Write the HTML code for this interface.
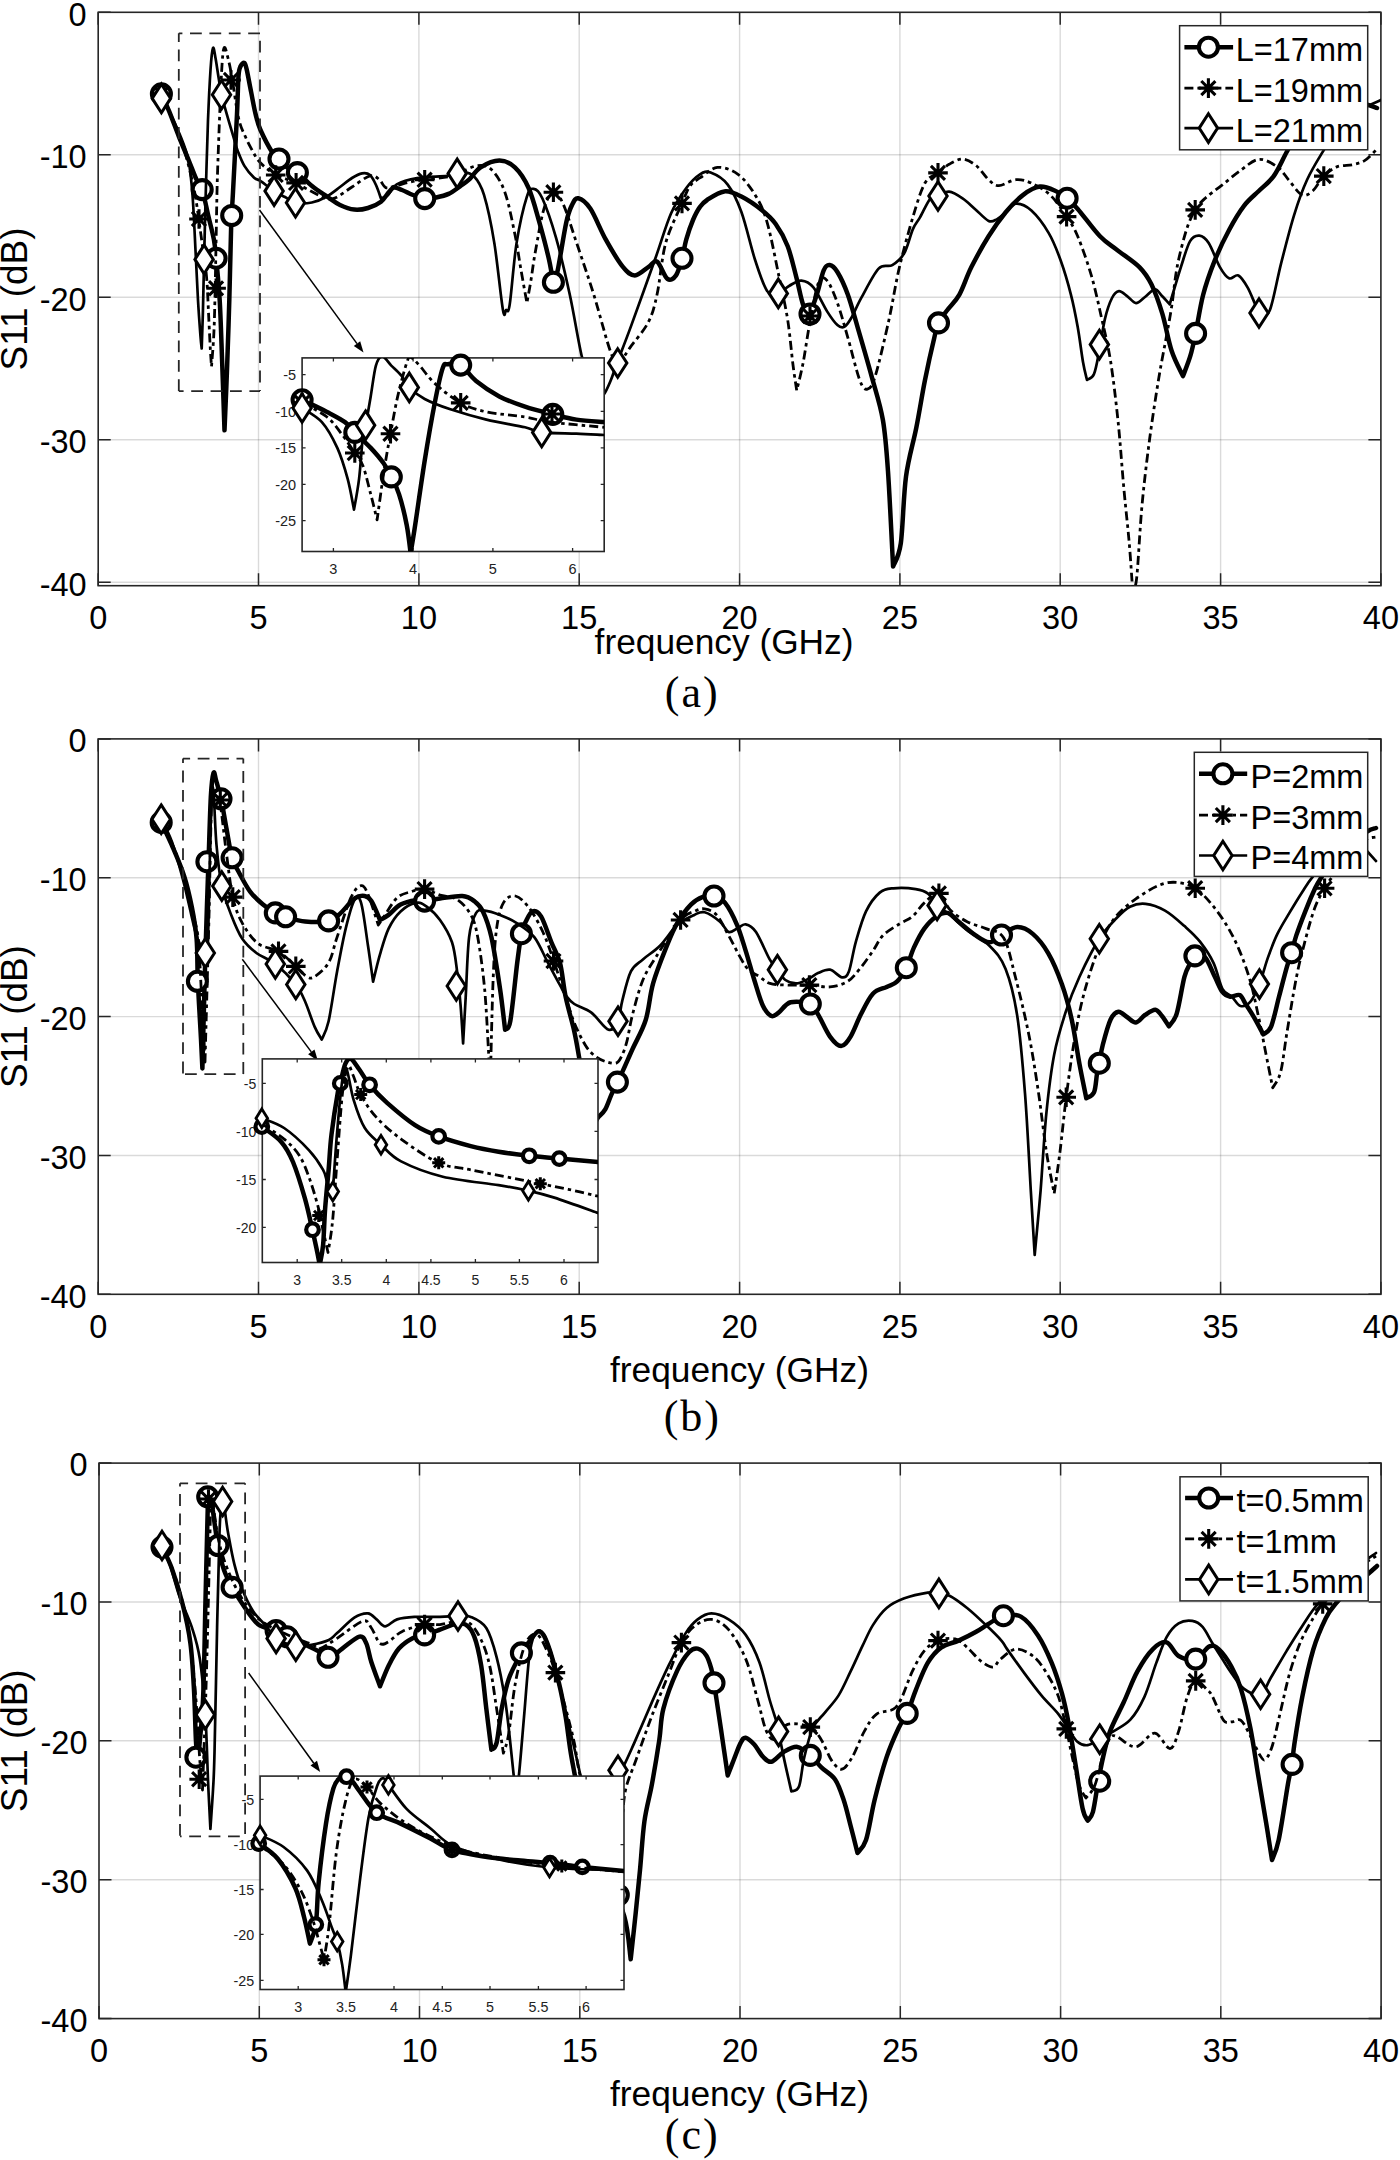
<!DOCTYPE html><html><head><meta charset="utf-8"><style>html,body{margin:0;padding:0;background:#fff;width:1400px;height:2160px;overflow:hidden}svg{display:block}text{font-family:"Liberation Sans",sans-serif}</style></head><body>
<svg width="1400" height="2160" viewBox="0 0 1400 2160">
<rect width="1400" height="2160" fill="#fff"/>
<path d="M258.5 12.3V585.7M418.9 12.3V585.7M579.2 12.3V585.7M739.6 12.3V585.7M899.9 12.3V585.7M1060.2 12.3V585.7M1220.6 12.3V585.7" stroke="#262626" stroke-opacity="0.17" stroke-width="1.4" fill="none"/>
<path d="M98.2 154.8H1380.9M98.2 297.3H1380.9M98.2 439.8H1380.9M98.2 582.3H1380.9" stroke="#262626" stroke-opacity="0.17" stroke-width="1.4" fill="none"/>
<clipPath id="clipa"><rect x="98.2" y="12.3" width="1282.7" height="573.4"/></clipPath>
<path d="M98.2 585.7v-12.5M98.2 12.3v12.5M258.5 585.7v-12.5M258.5 12.3v12.5M418.9 585.7v-12.5M418.9 12.3v12.5M579.2 585.7v-12.5M579.2 12.3v12.5M739.6 585.7v-12.5M739.6 12.3v12.5M899.9 585.7v-12.5M899.9 12.3v12.5M1060.2 585.7v-12.5M1060.2 12.3v12.5M1220.6 585.7v-12.5M1220.6 12.3v12.5M1380.9 585.7v-12.5M1380.9 12.3v12.5M98.2 12.3h12.5M1380.9 12.3h-12.5M98.2 154.8h12.5M1380.9 154.8h-12.5M98.2 297.3h12.5M1380.9 297.3h-12.5M98.2 439.8h12.5M1380.9 439.8h-12.5M98.2 582.3h12.5M1380.9 582.3h-12.5" stroke="#262626" stroke-width="1.5" fill="none"/>
<rect x="98.2" y="12.3" width="1282.7" height="573.4" stroke="#262626" stroke-width="1.6" fill="none"/>
<path d="M161.4 93.9C162.7 96.8 166.3 104.3 169.2 111.4C172.1 118.5 175.7 128.5 178.9 136.6C182.1 144.7 185.7 152.9 188.6 160C191.5 167.1 194.1 174.5 196.4 179.4C198.7 184.3 200.3 183.8 202.2 189.6C204.1 195.4 206.1 206.1 208 214.4C209.9 222.8 212.6 232.4 213.9 239.7C215.2 247 215.1 248.1 216.1 258.2C217.1 268.3 218.7 283.2 219.7 300.3C220.7 317.4 221.3 338.8 222.1 360.5C222.9 382.2 224.1 418.7 224.5 430.3C224.9 420.7 226.1 394.2 226.9 372.5C227.7 350.8 228.6 324.4 229.3 300.3C230 276.2 230.5 246.2 231.1 228.1C231.7 210 232 211 233 192C234 173 236.1 133.4 237 114.1C237.9 94.8 237.9 84 238.5 76C239.1 68 239.7 68.2 240.7 66C241.7 63.8 243.4 62.4 244.4 63C245.4 63.6 245.6 64.8 246.7 69.6C247.8 74.4 249.6 84.5 251.1 91.9C252.6 99.3 254 107.8 255.6 114.1C257.2 120.4 257.7 123.7 260.5 130C263.3 136.3 269.1 147.4 272.2 152.2C275.3 157 276.1 156.1 279 159C281.9 161.9 286.6 167.4 289.7 169.7C292.8 172 293.7 169.9 297.4 172.6C301.1 175.3 307 181.9 312 186C317 190.1 322.9 193.8 327.6 197C332.3 200.2 335.6 202.9 340 205C344.4 207.1 349.6 209.1 354.3 209.6C359 210.1 363.6 209.3 368 208C372.4 206.7 377.5 204.4 381 201.7C384.5 199 386.8 194.4 389 192C391.2 189.6 391.8 187.8 394 187.5C396.2 187.2 398.8 188.8 402 190C405.2 191.2 409.2 193.6 413 195C416.8 196.4 420.9 198.2 424.7 198.6C428.5 199 432 198.3 436 197.5C440 196.7 444.6 195.8 448.6 193.9C452.6 192 456.6 188.7 460 186.3C463.4 183.9 465.6 182.8 469 179.7C472.4 176.5 475.5 170.6 480.6 167.4C485.7 164.2 493.7 160.6 499.4 160.6C505.1 160.6 510 162.8 514.9 167.4C519.8 172 524.6 179.1 528.6 188C532.6 196.9 535.5 208.6 538.9 220.6C542.3 232.6 546.7 249.3 549.1 260C551.5 270.7 552.7 280.8 553.4 285C554.1 282.6 555.6 280.8 557.7 270.3C559.9 259.9 563.9 233.2 566.3 222.3C568.7 211.4 570 209 572 205C574 201 575.2 197.7 578.3 198.3C581.3 198.9 585.7 201.8 590.3 208.6C594.9 215.4 600.3 229.7 605.7 239.4C611.1 249.1 618 260.9 622.9 266.9C627.8 272.9 630.6 275.4 634.9 275.4C639.2 275.4 644.9 269.2 648.6 266.9C652.3 264.6 654 259.7 657.1 261.7C660.2 263.7 664.2 276.6 667.4 278.9C670.5 281.2 673.6 278.8 676 275.4C678.4 272 680.3 264.3 682 258.3C683.7 252.3 684.5 245.8 686.3 239.4C688.1 233 690.7 225.4 693 220C695.3 214.6 697.6 210.2 700 206.9C702.4 203.6 703.1 202.6 707.1 200C711.1 197.4 718.6 192 724.3 191.4C730 190.8 735.1 193.4 741.4 196.6C747.7 199.8 756.3 205.7 762 210.3C767.7 214.9 771.4 218 775.7 224C780 230 784.3 237.5 787.7 246.3C791.1 255.2 793.7 267.4 796.3 277.1C798.9 286.8 800.8 298.5 803.1 304.6C805.4 310.8 808.9 312.4 810 314C811.1 310.7 814.6 301.6 816.9 294.3C819.2 287 821.6 275.2 823.7 270.3C825.8 265.4 827.4 264.8 829.7 265.1C832 265.4 834.4 267.1 837.4 272C840.4 276.9 844.3 284.9 847.7 294.3C851.1 303.7 854 314.9 858 328.6C862 342.3 867.6 361.4 871.7 376.6C875.9 391.8 880.2 404.2 882.9 420C885.6 435.8 886.3 447 888 471.4C889.7 495.8 892.2 550.7 893.1 566.6C894.4 562.7 898.6 558.4 900.8 543.4C902.9 528.4 903.4 495.9 906 476.6C908.6 457.3 913.1 443.8 916.3 427.7C919.5 411.6 922 395 925 380C928 365 932 347.2 934.3 337.7C936.5 328.2 936.3 327.5 938.5 322.9C940.7 318.3 943.9 314.7 947.4 310C950.9 305.3 955.4 301.8 959.4 294.6C963.4 287.5 966.5 276.8 971.4 267.1C976.3 257.4 982.9 245.4 988.6 236.3C994.3 227.2 1000 219.2 1005.7 212.3C1011.4 205.4 1017.2 199.4 1022.9 195.1C1028.6 190.8 1034.3 187.2 1040 186.6C1045.7 186 1052.6 189.8 1057.1 191.7C1061.6 193.6 1063.7 195.3 1067.1 198.2C1070.5 201.1 1072.2 202.6 1077.7 208.9C1083.2 215.2 1093.4 229.5 1100 236.3C1106.6 243.2 1110.5 244.9 1117.1 250C1123.7 255.1 1133.7 261.4 1139.4 267.1C1145.1 272.8 1147.6 276.6 1151.4 284.3C1155.2 292.1 1158.9 302.5 1162.3 313.6C1165.7 324.7 1168.1 340.3 1171.6 350.7C1175 361.1 1181.1 371.9 1183 376.1C1184.2 372.7 1188.3 362.8 1190.4 355.7C1192.5 348.6 1193.5 343.5 1195.6 333.4C1197.7 323.3 1200 307 1203.1 295C1206.2 283 1210 272.4 1214.3 261.6C1218.6 250.8 1224.1 239.3 1229.1 230C1234 220.7 1239 212.3 1244 205.8C1249 199.3 1253.8 195.9 1258.8 191C1263.8 186.1 1269 182.6 1273.7 176.1C1278.4 169.6 1282.3 160 1286.7 152C1291.1 144 1294.5 135 1300 128C1305.5 121 1312.5 114.7 1320 110C1327.5 105.3 1337.5 101 1345 100C1352.5 99 1359.7 102.7 1365 104C1370.3 105.3 1375 107.3 1377 108" stroke="#000" stroke-width="4.5" fill="none" stroke-linejoin="round" stroke-linecap="round" clip-path="url(#clipa)"/>
<g fill="#fff" stroke="#000" stroke-width="4.1"><circle cx="161.4" cy="93.9" r="9.5"/><circle cx="202.2" cy="189.6" r="9.5"/><circle cx="216.1" cy="258.2" r="9.5"/><circle cx="231.7" cy="215.5" r="9.5"/><circle cx="279" cy="159" r="9.5"/><circle cx="297.4" cy="172.6" r="9.5"/><circle cx="424.7" cy="198.6" r="9.5"/><circle cx="553.4" cy="282.3" r="9.5"/><circle cx="682" cy="258.3" r="9.5"/><circle cx="810" cy="314" r="9.5"/><circle cx="938.5" cy="322.9" r="9.5"/><circle cx="1067.1" cy="198.2" r="9.5"/><circle cx="1195.6" cy="333.4" r="9.5"/><circle cx="1323.3" cy="115" r="9.5"/></g>
<path d="M161.4 94C162.7 96.8 166.2 104.3 169 111C171.8 117.7 175.2 126.5 178 134C180.8 141.5 183.7 148.3 186 156C188.3 163.7 190.3 172.7 192 180C193.7 187.3 194.4 190 196 200C197.6 210 199.9 227.5 201.7 240.2C203.4 252.9 205.4 264.3 206.5 276.3C207.6 288.3 207.9 300.4 208.5 312.4C209.1 324.4 209.8 339.5 210.3 348.5C210.8 357.5 211.3 363.5 211.5 366.5C211.9 361.5 213.1 347.4 213.7 336.4C214.3 325.4 214.5 316.3 214.9 300.3C215.3 284.3 215.7 260.2 216.1 240.2C216.5 220.1 216.7 202.2 217.3 180C218 157.8 219.2 126.3 220 106.7C220.8 87.1 221.5 72.1 222.2 62.2C222.9 52.3 223.4 48 224.4 47.4C225.4 46.8 226.8 53.6 228.1 58.5C229.3 63.4 230.2 67.1 231.9 77C233.6 86.9 236.3 107.9 238.5 117.8C240.7 127.7 242.8 130.8 245.2 136.3C247.5 141.9 250.4 147 252.6 151.1C254.8 155.2 256.3 157.9 258.5 160.7C260.7 163.5 263.1 165.6 266 168C268.9 170.4 272.4 173.2 275.7 175C279 176.8 282.6 177.7 286 179C289.4 180.3 292.6 181.2 296.1 182.9C299.6 184.6 302.1 186.5 307.1 189.1C312.1 191.7 321.3 197.1 326 198.6C330.7 200.1 331.1 199.7 335.4 197.8C339.7 195.9 346.2 190.7 352 187C357.8 183.3 365.4 177 370 175.8C374.6 174.6 376.8 177.7 379.4 179.7C382 181.7 383.1 186.5 385.7 187.6C388.3 188.7 391.1 186.9 395.1 186C399.2 185.1 405.1 183.1 410 182C414.9 180.9 418.3 180.6 424.7 179.7C431.1 178.8 442.7 177.8 448.6 176.6C454.5 175.4 455.2 174.4 460 172.6C464.8 170.8 472 166.3 477.1 165.7C482.2 165.1 486.3 164.8 490.9 169.1C495.5 173.4 500.6 180.5 504.6 191.4C508.6 202.3 512.2 221.2 514.9 234.3C517.6 247.4 519 258.6 521 270C523 281.4 525.9 297.4 526.9 302.9C527.6 299.1 529.6 288.6 531 280C532.4 271.4 533.2 263.3 535.4 251.4C537.6 239.5 541 218.4 544 208.6C547 198.8 550.2 193.2 553.4 192.3C556.5 191.4 559 195 562.9 203.4C566.8 211.8 571.5 227.8 576.6 242.9C581.7 258.1 588 276 593.7 294.3C599.4 312.6 606.6 341.5 610.9 352.6C615.2 363.7 616 362.2 619.4 361.1C622.8 360 626.5 352.3 631.4 345.7C636.3 339.1 644.3 330.3 648.6 321.7C652.9 313.1 654.2 307.4 657.1 294.3C660 281.2 661.6 258.1 665.7 242.9C669.9 227.8 678 212.9 682 203.4C686 193.9 687 190.3 690 186C693 181.7 695.7 180.8 700.3 177.7C704.9 174.6 711.1 168 717.4 167.4C723.7 166.8 731.7 169.7 738 174.3C744.3 178.9 750.2 186.9 755.1 194.9C760 202.9 763.1 208.6 767.1 222.3C771.1 236 775.7 260.8 779.1 277.1C782.5 293.4 785.4 305.4 787.7 320C790 334.6 791.5 353.3 793 365C794.5 376.7 796.1 386.2 796.7 390.4C797.8 385.8 800.9 374.3 803.1 362.9C805.3 351.4 807.4 335.1 810 321.7C812.6 308.3 815.8 289.1 818.6 282.3C821.5 275.5 824 277.2 827.1 280.6C830.2 284 834 293.5 837.4 302.9C840.8 312.3 844 324.2 847.7 337.1C851.4 350 856.4 371.3 859.7 380C863 388.7 864.8 389.7 867.4 389.1C870 388.5 871.5 388.1 875.1 376.6C878.7 365.1 884.9 338 888.9 320C892.9 302 895.1 285.8 899.1 268.6C903.1 251.5 908.6 231.4 912.9 217.1C917.2 202.8 920.8 190.4 925 183C929.2 175.6 934 176 938 172.9C942 169.8 945 166.6 949.1 164.3C953.2 162 958.3 158.8 962.9 159.1C967.5 159.4 972.3 162.6 976.6 166C980.9 169.4 984.9 176.4 988.6 179.7C992.3 183 994.3 185.7 998.9 185.7C1003.5 185.7 1010.6 180.1 1016 179.7C1021.4 179.3 1025.7 180.5 1031.4 183.1C1037.1 185.7 1044.4 189.5 1050.3 195.1C1056.2 200.7 1062 209.7 1066.6 216.6C1071.2 223.5 1073.6 226.5 1077.7 236.3C1081.8 246.2 1087.4 262 1091.4 275.7C1095.4 289.4 1098.5 304.3 1101.7 318.6C1104.9 332.9 1107.9 344.3 1110.6 361.3C1113.3 378.3 1115.8 400 1118 420.7C1120.2 441.4 1121.8 465.6 1123.6 485.7C1125.4 505.8 1127.6 524.4 1129.1 541.4C1130.6 558.4 1131.9 580.2 1132.5 588C1133.2 586.4 1135 592.6 1136.6 578.6C1138.2 564.6 1139.9 527.5 1142.1 504.3C1144.3 481.1 1146.8 460.4 1149.6 439.3C1152.4 418.2 1156 395 1158.8 378C1161.6 361 1164.1 349.2 1166.3 337.1C1168.5 325 1170 317.3 1171.8 305.6C1173.6 293.9 1174.7 279.7 1177.1 267.1C1179.5 254.5 1183.4 239.5 1186.4 230C1189.4 220.5 1192.1 215.2 1195.2 209.9C1198.3 204.6 1200.6 202.5 1205 198.4C1209.4 194.3 1215.8 190 1221.7 185.4C1227.6 180.8 1234.1 174.9 1240.3 170.6C1246.5 166.3 1252.6 160 1258.8 159.4C1265 158.8 1272.4 163.5 1277.4 166.9C1282.4 170.3 1284.6 175.2 1288.6 179.8C1292.6 184.4 1297.6 192.8 1301.6 194.7C1305.6 196.6 1309 194.1 1312.7 191C1316.4 187.9 1319.8 180.1 1323.8 176.1C1327.8 172.1 1331.9 168.8 1336.8 166.9C1341.7 165 1348.3 165.7 1352.9 164.6C1357.5 163.5 1361.1 162.7 1364.6 160.6C1368.1 158.5 1372.1 153.9 1374.1 152C1376.1 150.1 1376.1 149.5 1376.5 149" stroke="#000" stroke-width="2.8" fill="none" stroke-linejoin="round" stroke-dasharray="9 4 3.5 4" clip-path="url(#clipa)"/>
<path d="M151.6 94h19.6M161.4 84.2v19.6M154.3 86.9l14.1 14.1M154.3 101.1l14.1 -14.1M189.2 219h19.6M199 209.2v19.6M191.9 211.9l14.1 14.1M191.9 226.1l14.1 -14.1M206.3 288.3h19.6M216.1 278.5v19.6M209 281.2l14.1 14.1M209 295.4l14.1 -14.1M221.2 80h19.6M231 70.2v19.6M223.9 72.9l14.1 14.1M223.9 87.1l14.1 -14.1M265.9 175h19.6M275.7 165.2v19.6M268.6 167.9l14.1 14.1M268.6 182.1l14.1 -14.1M286.3 182.9h19.6M296.1 173.1v19.6M289 175.8l14.1 14.1M289 190l14.1 -14.1M414.9 179.7h19.6M424.7 169.9v19.6M417.6 172.6l14.1 14.1M417.6 186.8l14.1 -14.1M543.6 192.3h19.6M553.4 182.5v19.6M546.3 185.2l14.1 14.1M546.3 199.4l14.1 -14.1M672.2 203.4h19.6M682 193.6v19.6M674.9 196.3l14.1 14.1M674.9 210.5l14.1 -14.1M800.2 316h19.6M810 306.2v19.6M802.9 308.9l14.1 14.1M802.9 323.1l14.1 -14.1M928.2 172.9h19.6M938 163.1v19.6M930.9 165.8l14.1 14.1M930.9 180l14.1 -14.1M1056.8 216.6h19.6M1066.6 206.8v19.6M1059.5 209.5l14.1 14.1M1059.5 223.7l14.1 -14.1M1185.4 209.9h19.6M1195.2 200.1v19.6M1188.1 202.8l14.1 14.1M1188.1 217l14.1 -14.1M1314 176.1h19.6M1323.8 166.3v19.6M1316.7 169l14.1 14.1M1316.7 183.2l14.1 -14.1" stroke="#000" stroke-width="3.1" fill="none"/>
<path d="M160.4 96.8C162 99.5 166.7 106.6 170 113C173.3 119.4 176.9 127.2 180 135C183.1 142.8 186.3 150 188.4 160C190.5 170 191.3 179.6 192.5 195C193.7 210.4 194.7 234.6 195.6 252.2C196.5 269.8 197.2 286.3 198 300.3C198.8 314.3 199.9 328.4 200.5 336.4C201.1 344.4 201.5 346.5 201.7 348.5C201.9 342.5 202.5 327.2 202.9 312.4C203.3 297.5 203.6 280.1 204.1 259.4C204.6 238.7 205.2 211.3 205.9 188.1C206.6 164.9 207.2 139.7 208 120C208.8 100.3 209.7 82 210.5 70C211.3 58 212.2 50.1 213 48.1C213.8 46.1 214.6 53.2 215.5 58C216.4 62.8 217.5 70.9 218.5 77C219.5 83.1 220.3 89.1 221.5 94.8C222.7 100.5 223.9 104.2 225.9 111.1C227.9 118 231.3 129.6 233.3 136.3C235.3 143 236 146.2 237.8 151.1C239.7 156 241.7 161.4 244.4 165.9C247.1 170.4 251.5 175.3 254.1 177.8C256.7 180.3 256.7 178.5 260 180.7C263.3 182.9 269.9 188.4 274.1 191.1C278.3 193.8 281.4 195.1 285 197C288.6 198.9 291 201.9 295.5 202.8C300 203.7 306.8 203.5 311.9 202.5C317 201.5 321.3 199.6 326 197C330.7 194.4 335.7 190.2 340 187C344.3 183.8 348.3 180.3 352 178C355.7 175.7 359.1 173.9 362.1 173.4C365.1 172.9 367.7 173.1 370 175C372.3 176.9 374.2 181.1 376 185C377.8 188.9 380.2 196.3 381 198.6C382.2 198 385.4 197.4 388 195C390.6 192.6 391.8 187.2 396.7 184.4C401.6 181.6 408.7 179.5 417.1 178.1C425.5 176.7 440.3 176.6 447 175.8C453.7 175 454.7 174 457.2 173.4C459.7 172.8 459.2 171.6 462 172C464.8 172.4 470 172.2 473.7 176C477.4 179.8 480.6 183.8 484 194.9C487.4 206.1 491.2 223.8 494.3 242.9C497.4 262 500.9 298.5 502.9 309.7C504.8 320.9 504.9 310.9 506 310C507.1 309.1 507.9 315.8 509.7 304.6C511.5 293.4 513.7 260.9 516.6 242.9C519.5 224.9 524 205.6 526.9 196.6C529.8 187.6 531.1 188.6 533.7 188.9C536.3 189.2 538.6 190.2 542.3 198.3C546 206.4 551.4 221.7 556 237.7C560.6 253.7 565.4 274.6 569.7 294.3C574 314 578.3 341.7 581.7 356C585.1 370.3 587.3 373.5 590 380C592.7 386.5 595.7 392.6 598 395C600.3 397.4 601.8 396.8 603.9 394.3C606 391.8 608.7 385.2 610.9 380C613.1 374.8 613.6 372.1 617 363C620.4 353.9 625 342.6 631.4 325.1C637.8 307.7 648.8 276.9 655.4 258.3C662 239.7 665.8 225.4 670.9 213.7C676 202 681.4 194.6 686.3 188C691.1 181.4 696 176.9 700 174.3C704 171.7 706 170.9 710.6 172.6C715.2 174.3 722.6 178 727.7 184.6C732.8 191.2 736.8 199.4 741.4 212C746 224.6 750.8 246.8 755.1 260C759.4 273.1 763.2 285.3 767.1 290.9C771 296.5 774.6 294.3 778.3 293.4C782 292.5 785.5 287.8 789.4 285.7C793.2 283.6 797.4 280.3 801.4 280.6C805.4 280.9 809.1 282.3 813.4 287.4C817.7 292.5 823.1 305.1 827.1 311.4C831.1 317.7 834.5 322.5 837.4 325.1C840.3 327.7 842 328 844.3 326.9C846.6 325.8 848.2 323.2 851.1 318.3C854 313.4 856.8 306 861.4 297.7C866 289.4 873.5 274 878.6 268.6C883.8 263.2 888 267.7 892.3 265.1C896.6 262.5 900.9 259.1 904.3 253.1C907.7 247.1 910.3 235 912.9 229.1C915.5 223.2 917.1 222.5 920 217.4C922.9 212.3 927.3 202.2 930.3 198.6C933.3 195 934.9 197.2 938 196C941.1 194.8 945 191.3 949.1 191.7C953.2 192.1 958.6 195.7 962.9 198.6C967.2 201.5 970.6 205.2 974.9 208.9C979.2 212.6 984.9 219.2 988.6 220.9C992.3 222.6 994.2 220.5 997.1 219.1C1000 217.7 1002.6 214.9 1005.7 212.3C1008.9 209.7 1011.7 204 1016 203.7C1020.3 203.4 1026 205.7 1031.4 210.6C1036.8 215.5 1043.7 224.6 1048.6 232.9C1053.5 241.2 1056.9 250 1060.6 260.3C1064.3 270.6 1068.1 283.5 1070.9 294.6C1073.8 305.7 1075.7 315.9 1077.7 327.1C1079.7 338.3 1081.5 353.2 1083 362C1084.5 370.8 1086.3 376.9 1087 379.9C1088.2 379 1091.8 379.3 1093.9 374.3C1096 369.3 1097.6 359.4 1099.4 350.1C1101.2 340.8 1102.9 327.3 1105 318.6C1107.1 309.9 1109.7 302.6 1112 298C1114.3 293.4 1116.3 291.4 1118.9 291.1C1121.5 290.8 1124.6 294.3 1127.4 296.3C1130.2 298.3 1133.1 303 1136 303.1C1138.9 303.2 1141.8 299.3 1145 297C1148.2 294.7 1152.1 289.6 1154.9 289.4C1157.7 289.2 1159.5 293.5 1162 296C1164.5 298.5 1168.4 302.9 1169.7 304.3C1171.6 298.1 1177.5 277.6 1180.9 267.1C1184.3 256.6 1187 246.3 1190.1 241.1C1193.2 235.8 1196.3 235.3 1199.4 235.6C1202.5 235.9 1205.3 237.8 1208.7 243C1212.1 248.2 1216.5 261.2 1219.9 267.1C1223.3 273 1226 276.9 1229.1 278.3C1232.2 279.7 1235.3 273.9 1238.4 275.5C1241.5 277.1 1244.6 282.2 1247.7 287.6C1250.8 293 1254.6 303.9 1257 308C1259.4 312.1 1259.8 311.7 1262 312C1264.2 312.3 1266.8 317.9 1270 309.8C1273.2 301.7 1277.1 279.2 1281.1 263.4C1285.1 247.6 1289.8 229 1294.1 215.1C1298.4 201.2 1302.1 190.6 1307.1 179.8C1312 169 1318.3 159.2 1323.8 150.1C1329.3 141 1334 131.7 1340 125C1346 118.3 1353.2 114.2 1360 110C1366.8 105.8 1377.5 101.7 1381 100" stroke="#000" stroke-width="2.7" fill="none" stroke-linejoin="round" stroke-linecap="round" clip-path="url(#clipa)"/>
<path d="M161.4 84.1L170.6 98.4L161.4 112.7L152.2 98.4ZM204.1 245.1L213.3 259.4L204.1 273.7L194.9 259.4ZM221.5 80.5L230.7 94.8L221.5 109.1L212.3 94.8ZM274.1 176.8L283.3 191.1L274.1 205.4L264.9 191.1ZM295.5 188.5L304.7 202.8L295.5 217.1L286.3 202.8ZM457.2 159.1L466.4 173.4L457.2 187.7L448 173.4ZM617.7 348.7L626.9 363L617.7 377.3L608.5 363ZM778.3 279.1L787.5 293.4L778.3 307.7L769.1 293.4ZM938 181.7L947.2 196L938 210.3L928.8 196ZM1099.4 330.3L1108.6 344.6L1099.4 358.9L1090.2 344.6ZM1259 298.7L1268.2 313L1259 327.3L1249.8 313Z" stroke="#000" stroke-width="3" fill="#fff" stroke-linejoin="miter"/>
<path d="M178.8 33.3H260" stroke="#262626" stroke-width="1.8" fill="none" stroke-dasharray="11.8 7.6" stroke-dashoffset="8.2"/>
<path d="M178.8 33.3V391.1" stroke="#262626" stroke-width="1.8" fill="none" stroke-dasharray="11.8 7.6" stroke-dashoffset="3.2"/>
<path d="M260 33.3V391.1" stroke="#262626" stroke-width="1.8" fill="none" stroke-dasharray="11.8 7.6" stroke-dashoffset="11.9"/>
<path d="M178.8 391.1H260" stroke="#262626" stroke-width="1.8" fill="none" stroke-dasharray="11.8 7.6" stroke-dashoffset="7.0"/>
<path d="M259.5 210L357 343.6" stroke="#000" stroke-width="1.5"/>
<path d="M363.5 352.5L353.8 346L360.2 341.3Z" fill="#000"/>
<rect x="302.1" y="357.9" width="302.1" height="193.6" fill="#fff"/>
<text x="333.4" y="573.5" font-size="14.5" text-anchor="middle" fill="#222">3</text>
<text x="413.1" y="573.5" font-size="14.5" text-anchor="middle" fill="#222">4</text>
<text x="492.9" y="573.5" font-size="14.5" text-anchor="middle" fill="#222">5</text>
<text x="572.6" y="573.5" font-size="14.5" text-anchor="middle" fill="#222">6</text>
<text x="296.1" y="379.8" font-size="14.5" text-anchor="end" fill="#222">-5</text>
<text x="296.1" y="416.5" font-size="14.5" text-anchor="end" fill="#222">-10</text>
<text x="296.1" y="453.1" font-size="14.5" text-anchor="end" fill="#222">-15</text>
<text x="296.1" y="489.6" font-size="14.5" text-anchor="end" fill="#222">-20</text>
<text x="296.1" y="525.8" font-size="14.5" text-anchor="end" fill="#222">-25</text>
<clipPath id="iclipa"><rect x="302.1" y="357.9" width="302.1" height="193.6"/></clipPath>
<path d="M333.4 551.5v-3.5M333.4 357.9v3.5M413.1 551.5v-3.5M413.1 357.9v3.5M492.9 551.5v-3.5M492.9 357.9v3.5M572.6 551.5v-3.5M572.6 357.9v3.5M302.1 374.6h3.5M604.2 374.6h-3.5M302.1 411.3h3.5M604.2 411.3h-3.5M302.1 447.9h3.5M604.2 447.9h-3.5M302.1 484.4h3.5M604.2 484.4h-3.5M302.1 520.6h3.5M604.2 520.6h-3.5" stroke="#262626" stroke-width="1.3" fill="none"/>
<rect x="302.1" y="357.9" width="302.1" height="193.6" stroke="#262626" stroke-width="1.6" fill="none"/>
<path d="M302.1 399.8C306.2 401.8 319.9 408.2 327 411.9C334.1 415.6 340.4 418.7 345 422.1C349.6 425.5 350.5 428.1 354.8 432.4C359.1 436.7 365.9 442.8 370.7 447.9C375.5 453 380.2 458.5 383.6 463.3C387 468.1 388.7 471.8 391.3 476.9C393.9 482 396.4 486.1 399 494.1C401.6 502.1 404.8 515.2 406.7 525C408.6 534.8 410 548.3 410.6 553C411.2 549.2 412 545.5 414.4 530.1C416.8 514.7 421.3 482.1 424.7 460.7C428.1 439.3 432 417 435 401.6C438 386.2 440.6 374.3 442.7 368.1C444.8 361.9 444.9 364.8 447.9 364.3C450.9 363.8 456 362.3 460.7 365.1C465.4 367.9 469.7 375.8 476.1 381C482.5 386.2 491.2 392.1 499.3 396.4C507.4 400.7 516.1 403.7 525 406.7C533.9 409.7 544.2 412.2 552.8 414.4C561.4 416.5 567.9 418.3 576.4 419.6C584.9 420.9 599.4 421.7 604 422.1" stroke="#000" stroke-width="4.5" fill="none" stroke-linejoin="round" stroke-linecap="round" clip-path="url(#iclipa)"/>
<g fill="#fff" stroke="#000" stroke-width="4.1"><circle cx="302.1" cy="399.8" r="9.5"/><circle cx="354.8" cy="432.4" r="9.5"/><circle cx="391.3" cy="476.9" r="9.5"/><circle cx="460.7" cy="365.1" r="9.5"/><circle cx="552.8" cy="414.4" r="9.5"/></g>
<path d="M302.1 402.9C306.2 405.2 320.3 411.6 327 417C333.7 422.4 337.8 429 342.4 435C347 441 351.4 447.9 354.8 453C358.2 458.1 360.4 459 363 465.9C365.6 472.8 368.3 485.1 370.7 494.1C373.1 503.1 376 515.6 377.1 519.9C378.2 512.2 381.4 488 383.6 473.6C385.8 459.2 388.1 446.6 390.5 433.7C392.9 420.8 395 408.2 397.7 396.4C400.4 384.6 404.5 369.5 406.7 363C408.9 356.5 408.5 356.9 410.6 357.3C412.8 357.7 415.5 361.2 419.6 365.6C423.7 370 428.1 377.4 435 383.6C441.9 389.8 452.1 398.2 460.7 402.9C469.3 407.6 475.7 409.5 486.4 411.9C497.1 414.2 514.3 415.3 525 417C535.7 418.7 537.5 420.4 550.7 422.1C563.9 423.8 595.1 426.4 604 427.3" stroke="#000" stroke-width="2.8" fill="none" stroke-linejoin="round" stroke-dasharray="9 4 3.5 4" clip-path="url(#iclipa)"/>
<path d="M292.3 402.9h19.6M302.1 393.1v19.6M295 395.8l14.1 14.1M295 410l14.1 -14.1M345 453h19.6M354.8 443.2v19.6M347.7 445.9l14.1 14.1M347.7 460.1l14.1 -14.1M380.7 433.7h19.6M390.5 423.9v19.6M383.4 426.6l14.1 14.1M383.4 440.8l14.1 -14.1M450.9 402.9h19.6M460.7 393.1v19.6M453.6 395.8l14.1 14.1M453.6 410l14.1 -14.1M542.2 414h19.6M552 404.2v19.6M544.9 406.9l14.1 14.1M544.9 421.1l14.1 -14.1" stroke="#000" stroke-width="3.1" fill="none"/>
<path d="M302.1 408C305.4 410.4 316 415.5 321.9 422.1C327.8 428.8 333 438.5 337.3 447.9C341.6 457.3 344.8 468.4 347.6 478.7C350.4 489 352.9 504.5 354 509.6C354.9 504.5 357.6 491.1 359.1 478.7C360.6 466.3 361.9 443.9 363 435C364.1 426.1 364.3 431.6 365.6 425.2C366.9 418.8 369 406.3 370.7 396.4C372.4 386.5 374 372.2 375.9 365.6C377.8 359 379.7 356.5 382.3 356.5C384.9 356.5 388.1 362.4 391.3 365.6C394.5 368.8 398.6 372.3 401.6 375.9C404.6 379.5 405.5 383.5 409.3 387.4C413.1 391.2 417.9 395.4 424.7 399C431.5 402.6 440.1 405.9 450.4 409.3C460.7 412.7 474 416.6 486.4 419.6C498.8 422.6 515.8 425.2 525 427.3C534.2 429.4 533.1 431.3 541.7 432.4C550.3 433.5 566 433.3 576.4 433.7C586.8 434.1 599.4 434.8 604 435" stroke="#000" stroke-width="2.7" fill="none" stroke-linejoin="round" stroke-linecap="round" clip-path="url(#iclipa)"/>
<path d="M302.1 393.7L311.3 408L302.1 422.3L292.9 408ZM365.6 410.9L374.8 425.2L365.6 439.5L356.4 425.2ZM409.3 373.1L418.5 387.4L409.3 401.7L400.1 387.4ZM541.7 418.1L550.9 432.4L541.7 446.7L532.5 432.4Z" stroke="#000" stroke-width="3" fill="#fff" stroke-linejoin="miter"/>
<rect x="1179.6" y="25.7" width="188.1" height="124.1" fill="#fff" stroke="#262626" stroke-width="1.5"/>
<path d="M1184.4 47.2H1233.1" stroke="#000" stroke-width="4.5" fill="none" stroke-linejoin="butt" stroke-linecap="butt"/>
<g fill="#fff" stroke="#000" stroke-width="4.1"><circle cx="1208.4" cy="47.2" r="9.5"/></g>
<text x="1235.7" y="60.9" font-size="32.5">L=17mm</text>
<path d="M1184.4 88.1H1233.1" stroke="#000" stroke-width="2.8" stroke-dasharray="9 4 3.5 4"/>
<path d="M1198.6 88.1h19.6M1208.4 78.3v19.6M1201.3 81l14.1 14.1M1201.3 95.2l14.1 -14.1" stroke="#000" stroke-width="3.1" fill="none"/>
<text x="1235.7" y="101.8" font-size="32.5">L=19mm</text>
<path d="M1184.4 128.1H1233.1" stroke="#000" stroke-width="2.7" fill="none" stroke-linejoin="butt" stroke-linecap="butt"/>
<path d="M1208.4 113.8L1217.6 128.1L1208.4 142.4L1199.2 128.1Z" stroke="#000" stroke-width="3" fill="#fff" stroke-linejoin="miter"/>
<text x="1235.7" y="141.8" font-size="32.5">L=21mm</text>
<text x="98.2" y="629.2" font-size="32.5" text-anchor="middle">0</text>
<text x="258.5" y="629.2" font-size="32.5" text-anchor="middle">5</text>
<text x="418.9" y="629.2" font-size="32.5" text-anchor="middle">10</text>
<text x="579.2" y="629.2" font-size="32.5" text-anchor="middle">15</text>
<text x="739.6" y="629.2" font-size="32.5" text-anchor="middle">20</text>
<text x="899.9" y="629.2" font-size="32.5" text-anchor="middle">25</text>
<text x="1060.2" y="629.2" font-size="32.5" text-anchor="middle">30</text>
<text x="1220.6" y="629.2" font-size="32.5" text-anchor="middle">35</text>
<text x="1380.9" y="629.2" font-size="32.5" text-anchor="middle">40</text>
<text x="86.7" y="25.6" font-size="32.5" text-anchor="end">0</text>
<text x="86.7" y="168.1" font-size="32.5" text-anchor="end">-10</text>
<text x="86.7" y="310.6" font-size="32.5" text-anchor="end">-20</text>
<text x="86.7" y="453.1" font-size="32.5" text-anchor="end">-30</text>
<text x="86.7" y="595.6" font-size="32.5" text-anchor="end">-40</text>
<text transform="translate(27.3 299) rotate(-90)" font-size="36.9" text-anchor="middle">S11 (dB)</text>
<text x="594.6" y="653.9" font-size="35.3">frequency (GHz)</text>
<text x="664.8" y="707.4" font-size="44" letter-spacing="2" style="font-family:'Liberation Serif',serif">(a)</text>
<path d="M258.5 738.9V1294.3M418.9 738.9V1294.3M579.2 738.9V1294.3M739.6 738.9V1294.3M899.9 738.9V1294.3M1060.2 738.9V1294.3M1220.6 738.9V1294.3" stroke="#262626" stroke-opacity="0.17" stroke-width="1.4" fill="none"/>
<path d="M98.2 877.8H1380.9M98.2 1016.6H1380.9M98.2 1155.5H1380.9" stroke="#262626" stroke-opacity="0.17" stroke-width="1.4" fill="none"/>
<clipPath id="clipb"><rect x="98.2" y="738.9" width="1282.7" height="555.4"/></clipPath>
<path d="M98.2 1294.3v-12.5M98.2 738.9v12.5M258.5 1294.3v-12.5M258.5 738.9v12.5M418.9 1294.3v-12.5M418.9 738.9v12.5M579.2 1294.3v-12.5M579.2 738.9v12.5M739.6 1294.3v-12.5M739.6 738.9v12.5M899.9 1294.3v-12.5M899.9 738.9v12.5M1060.2 1294.3v-12.5M1060.2 738.9v12.5M1220.6 1294.3v-12.5M1220.6 738.9v12.5M1380.9 1294.3v-12.5M1380.9 738.9v12.5M98.2 738.9h12.5M1380.9 738.9h-12.5M98.2 877.8h12.5M1380.9 877.8h-12.5M98.2 1016.6h12.5M1380.9 1016.6h-12.5M98.2 1155.5h12.5M1380.9 1155.5h-12.5M98.2 1294.3h12.5M1380.9 1294.3h-12.5" stroke="#262626" stroke-width="1.5" fill="none"/>
<rect x="98.2" y="738.9" width="1282.7" height="555.4" stroke="#262626" stroke-width="1.6" fill="none"/>
<path d="M161.2 822.4C162.9 826.1 167.7 835.5 171.5 844.4C175.3 853.3 180.7 865.4 184.1 875.9C187.5 886.4 189.8 896.9 191.9 907.4C194 917.9 195.6 926.5 196.6 938.8C197.6 951.1 197.2 966.1 197.8 981.3C198.5 996.5 199.7 1015.5 200.5 1030C201.3 1044.5 202.1 1062.1 202.4 1068.5C202.8 1054.8 203.8 1012.9 204.5 986C205.2 959.1 206.2 928.1 206.9 907.4C207.6 886.7 207.8 880.1 208.5 861.7C209.2 843.3 210 812 210.8 797.2C211.6 782.4 212.6 775.9 213.5 773C214.4 770.1 214.8 775.7 216 780C217.2 784.3 219.2 790.7 221 798.8C222.8 806.9 224.7 818.9 226.5 828.7C228.3 838.5 230 850.5 232.1 857.8C234.2 865.1 236.1 867.1 239.1 872.7C242.1 878.3 246.2 886.4 250.1 891.6C254 896.9 258.5 900.7 262.7 904.2C266.9 907.8 271.5 910.8 275.3 912.9C279.1 915 280.6 915.4 285.6 916.8C290.6 918.2 298 920.8 305.2 921.5C312.4 922.2 322.7 922.3 328.6 920.9C334.5 919.5 336.3 916.8 340.6 913.1C344.9 909.4 350.3 901.5 354.3 898.6C358.3 895.8 361.8 895.6 364.6 896C367.5 896.4 368.8 897.1 371.4 901.1C374 905.1 378.6 916.9 380 920C381.4 919.1 385.2 917.5 388.6 914.9C392 912.3 396 907 400.6 904.6C405.2 902.2 412 900.9 416 900.3C420 899.7 420.6 901.4 424.6 901.1C428.6 900.8 433.7 899.5 440 898.6C446.3 897.8 456.6 895.6 462.3 896C468 896.4 470.9 898.5 474.3 901.1C477.7 903.7 480 905.4 482.9 911.4C485.8 917.4 488.5 924.2 491.4 937.1C494.2 950 497.7 973.2 500 988.6C502.3 1004 504.2 1022.9 505.1 1029.7C506 1028.3 508.3 1032.3 510.3 1021.2C512.3 1010.1 515.4 977.5 517.2 962.9C519.1 948.3 520 940.6 521.4 933.7C522.8 926.8 523.8 925.4 525.7 921.7C527.6 918 530 912.2 532.6 911.4C535.2 910.5 538.1 911.5 541.2 916.6C544.3 921.8 548.3 934.6 551.4 942.3C554.5 950 557.6 953.8 560 962.9C562.4 972 563.3 985.7 565.7 997.1C568.1 1008.5 572 1021.1 574.3 1031.4C576.6 1041.7 577.6 1049.1 579.4 1058.9C581.2 1068.7 582.9 1079.5 585 1090C587.1 1100.5 589.7 1117.5 592 1122C594.3 1126.5 596.4 1119.1 598.6 1116.9C600.8 1114.8 603.3 1112.8 605.4 1109.1C607.5 1105.4 609.4 1099.1 611.4 1094.6C613.4 1090.1 615.5 1086 617.4 1082.1C619.3 1078.2 620 1077 622.6 1071.4C625.2 1065.8 629 1056.9 632.9 1048.3C636.8 1039.7 642.3 1030.8 645.7 1020C649.1 1009.2 649.6 995.8 653.1 983.4C656.6 971 662.9 955.7 666.9 945.7C670.9 935.7 673.1 930.2 677.1 923.4C681.1 916.5 686.6 909 690.9 904.6C695.2 900.2 699 898.3 702.9 896.9C706.8 895.5 710.3 895 714 896C717.7 897 721.2 898 725.1 902.9C729 907.8 733.7 917.1 737.1 925.1C740.5 933.1 742.8 941.8 745.7 950.9C748.6 960 751.4 970.9 754.3 980C757.2 989.1 760 999.7 762.9 1005.7C765.8 1011.7 768.8 1014.9 771.4 1016C774 1017.1 775.4 1014.9 778.6 1012.6C781.8 1010.3 785.3 1003.7 790.6 1002.3C795.9 1000.9 805.7 1002 810.3 1004C814.9 1006 814.7 1008.9 818 1014.3C821.3 1019.7 826.1 1031.3 830 1036.6C833.9 1041.9 837.7 1046 841.1 1046C844.5 1046 847.3 1041.9 850.6 1036.6C853.9 1031.3 857.2 1021.4 860.9 1014.3C864.6 1007.1 868.6 998.3 872.9 993.7C877.2 989.1 882.6 988.9 886.6 986.9C890.6 984.9 893.6 984.9 896.9 981.7C900.2 978.5 903.4 973.4 906.3 967.7C909.1 962 911 953.9 914 947.4C917 940.9 920.6 933.7 924.3 928.6C928 923.5 932.3 919.2 936.3 916.6C940.3 914 944.6 912.2 948.3 913.1C952 914 954 918 958.6 921.7C963.2 925.4 970.6 932 975.7 935.4C980.8 938.8 985.1 942.4 989.4 942.3C993.7 942.2 996.9 937.5 1001.5 935C1006.1 932.5 1012 927.3 1017.2 927.1C1022.4 926.9 1027.6 929.5 1032.8 933.9C1038 938.3 1043.4 944.9 1048.3 953.3C1053.2 961.7 1058.1 973.5 1062 984.5C1065.9 995.5 1068.8 1006.2 1071.7 1019.5C1074.6 1032.8 1077.1 1051.1 1079.5 1064.2C1081.9 1077.3 1085.2 1092.5 1086.3 1098.2C1087.6 1097.2 1092.2 1096.5 1094 1092.4C1095.8 1088.4 1096.1 1078.8 1097 1073.9C1097.9 1069 1098.3 1068.1 1099.3 1063.2C1100.3 1058.3 1100.9 1052.1 1102.8 1044.8C1104.7 1037.5 1108 1025 1110.6 1019.5C1113.2 1014 1115.7 1012.1 1118.4 1011.7C1121.1 1011.3 1124.1 1015.2 1127 1017C1129.9 1018.8 1132.9 1022.7 1135.9 1022.4C1138.9 1022.1 1141.8 1017.1 1145 1015C1148.2 1012.9 1152.5 1009.5 1155.3 1009.7C1158.1 1009.9 1159.7 1013.2 1162 1016C1164.3 1018.8 1167.8 1024.6 1168.9 1026.3C1170.2 1024.2 1174.1 1021.9 1176.7 1013.6C1179.3 1005.3 1182.2 985.1 1184.5 976.7C1186.8 968.3 1188.6 966.6 1190.3 963.1C1192 959.6 1192.4 956.9 1194.9 955.9C1197.4 954.9 1201.8 954 1205.1 957.4C1208.4 960.8 1211.7 970.5 1214.6 976.3C1217.5 982.1 1219.8 988.6 1222.4 992C1225 995.4 1227.4 996.2 1230.3 996.7C1233.2 997.2 1237.1 993.8 1239.7 995.1C1242.3 996.4 1243.6 1000.9 1246 1004.6C1248.4 1008.3 1251 1012.1 1253.9 1017.1C1256.8 1022.1 1261.7 1031.5 1263.3 1034.4C1264.6 1033.1 1268.5 1032.9 1271.1 1026.6C1273.7 1020.3 1276.4 1006.7 1279 996.7C1281.6 986.8 1284.8 974.2 1286.9 966.9C1289 959.6 1290 958 1291.6 952.7C1293.2 947.5 1293.9 942.5 1296.3 935.4C1298.7 928.3 1302.6 918.1 1305.7 910.3C1308.8 902.4 1312.5 893.8 1315.1 888.3C1317.7 882.8 1318.1 882.3 1321.4 877.3C1324.7 872.2 1329.4 864.2 1335 858C1340.6 851.8 1349.5 844.5 1355 840C1360.5 835.5 1364.5 833 1368 831C1371.5 829 1374.7 828.5 1376 828" stroke="#000" stroke-width="4.5" fill="none" stroke-linejoin="round" stroke-linecap="round" clip-path="url(#clipb)"/>
<g fill="#fff" stroke="#000" stroke-width="4.1"><circle cx="161.2" cy="822.4" r="9.5"/><circle cx="197.4" cy="981.3" r="9.5"/><circle cx="206.9" cy="861.7" r="9.5"/><circle cx="221" cy="798.8" r="9.5"/><circle cx="232.1" cy="857.8" r="9.5"/><circle cx="275.3" cy="912.9" r="9.5"/><circle cx="285.6" cy="916.8" r="9.5"/><circle cx="328.6" cy="920.9" r="9.5"/><circle cx="424.6" cy="901.1" r="9.5"/><circle cx="521.4" cy="933.7" r="9.5"/><circle cx="617.4" cy="1082.1" r="9.5"/><circle cx="714" cy="896" r="9.5"/><circle cx="810.3" cy="1004" r="9.5"/><circle cx="906.3" cy="967.7" r="9.5"/><circle cx="1001.5" cy="935" r="9.5"/><circle cx="1099.3" cy="1063.2" r="9.5"/><circle cx="1194.9" cy="955.9" r="9.5"/><circle cx="1291.6" cy="952.7" r="9.5"/></g>
<path d="M161.2 822.4C162.8 825.7 167.9 835.1 171 842C174.1 848.9 177.3 855.7 180 864C182.7 872.3 185 883.1 187.2 891.6C189.4 900.1 191.2 907.1 193 915C194.8 922.9 196.8 925.5 198.2 938.8C199.6 952.1 200.4 974.5 201.5 995C202.6 1015.5 204.4 1050.8 205 1062C205.3 1050 206.3 1015.8 207 990C207.7 964.2 208.6 934.1 209.2 907.4C209.8 880.7 210.3 849.7 210.8 830C211.3 810.3 211.3 795.3 212 789C212.7 782.7 213.6 789.3 215 792C216.4 794.7 218.5 795.3 220.3 805C222.1 814.7 223.9 834.6 226 850C228.1 865.4 230.1 884.9 232.8 897.1C235.5 909.3 238.1 915.4 242.3 923.1C246.5 930.8 252 938.8 258 943.5C264 948.2 272.2 947.6 278.5 951.4C284.8 955.2 291.1 962.2 295.8 966.4C300.5 970.6 303.7 974.9 306.8 976.6C309.9 978.3 311 979 314.7 976.6C318.4 974.2 325.1 969 328.8 962.4C332.5 955.8 333.4 947.9 337.1 937.1C340.8 926.3 346.9 906.3 350.9 897.7C354.9 889.1 358.2 886.3 361.1 885.7C364 885.1 365.1 887.7 368 894.3C370.9 900.9 376.6 920 378.3 925.1C379.4 923.4 382 919.5 385.1 914.9C388.2 910.3 392.8 901.6 397.1 897.7C401.4 893.8 406.3 893.1 410.9 891.7C415.5 890.3 419.8 888.5 424.6 889.1C429.5 889.7 434.6 893.4 440 895.1C445.4 896.8 452 896.1 457.1 899.4C462.2 902.7 467.5 908.6 470.9 914.9C474.3 921.2 475.4 924.8 477.7 937.1C480 949.4 482.7 968.6 484.6 988.6C486.5 1008.6 487.9 1042.8 488.9 1057.2C489.9 1071.6 490.2 1072 490.5 1075C490.9 1059.2 492.1 1004.4 493.1 980C494.1 955.6 494.9 941.5 496.6 928.6C498.3 915.8 500.3 908.3 503.4 902.9C506.5 897.5 511.1 895.1 515.4 896C519.7 896.9 524.6 902 529.2 908C533.8 914 538.9 923.4 542.9 932C546.9 940.6 549.4 948.5 553.2 959.4C557 970.2 562.2 986.5 565.7 997.1C569.2 1007.7 571 1014.8 574.3 1022.9C577.6 1031 582.1 1040 585.7 1045.7C589.3 1051.4 592.4 1054.2 596 1056.9C599.6 1059.6 603.7 1061 607.1 1062C610.5 1063 614.2 1063.9 616.6 1062.9C619 1061.9 620 1059.6 621.7 1056C623.4 1052.4 625.1 1048.4 626.9 1041.4C628.7 1034.5 629.9 1024.5 632.6 1014.3C635.3 1004.1 638.9 989.7 642.9 980C646.9 970.3 650.3 966 656.6 956C662.9 946 674.3 927.4 680.6 920C686.9 912.6 690.3 913.2 694.3 911.4C698.3 909.5 700.9 908.3 704.6 908.9C708.3 909.5 712.6 910.5 716.6 914.9C720.6 919.3 723.8 926.8 728.6 935.4C733.5 944 740.6 959.4 745.7 966.3C750.8 973.2 755.4 973.8 759.4 976.6C763.4 979.5 765.4 982 770 983.4C774.6 984.8 780.5 984.8 787.1 985.1C793.7 985.4 802.2 984.8 809.4 985.1C816.5 985.4 823.7 987.5 830 986.9C836.3 986.3 842.2 984.6 847.1 981.7C852 978.8 854.8 974.8 859.1 969.7C863.4 964.6 868.9 956.6 872.9 950.9C876.9 945.2 878.5 940 883.1 935.4C887.7 930.8 895.4 926.5 900.3 923.4C905.2 920.3 908.3 920 912.3 916.6C916.3 913.2 919.9 906.8 924.3 902.9C928.7 899 934.6 892.3 938.9 893.4C943.2 894.5 945.3 905 950 909.7C954.7 914.4 961.1 918.6 967.1 921.7C973.1 924.9 979.9 925.9 986 928.6C992.1 931.3 998.7 929.8 1003.6 937.8C1008.5 945.8 1011.1 960.5 1015.3 976.7C1019.5 992.9 1025 1015.5 1028.9 1035C1032.8 1054.5 1035.7 1074 1038.6 1093.4C1041.5 1112.9 1043.8 1135 1046.4 1151.7C1049 1168.4 1052.9 1186.5 1054.2 1193.5C1055.2 1186.5 1058 1167.7 1060 1151.7C1062 1135.7 1063.9 1115.1 1066.2 1097.3C1068.5 1079.5 1070.8 1061.7 1073.6 1044.8C1076.4 1027.9 1079.1 1012.3 1083.3 996.1C1087.5 979.9 1093.7 960.5 1098.9 947.5C1104.1 934.5 1108.3 926.4 1114.5 918.3C1120.7 910.2 1128.5 904.4 1135.9 898.9C1143.4 893.4 1152.4 888 1159.2 885.3C1166 882.5 1170.7 881.9 1176.7 882.4C1182.7 882.9 1189.4 884.6 1195.2 888.2C1201 891.8 1206.1 897.7 1211.4 904C1216.7 910.3 1222.4 918.1 1227.1 926C1231.8 933.9 1235.8 941.7 1239.7 951.1C1243.6 960.5 1247.6 971.6 1250.7 982.6C1253.8 993.6 1256.2 1006.1 1258.6 1017.1C1261 1028.1 1262.6 1036.8 1264.9 1048.6C1267.2 1060.4 1271.4 1081.3 1272.7 1087.8C1274 1085.2 1278.2 1081.3 1280.6 1072.1C1283 1062.9 1284.3 1048.5 1286.9 1032.8C1289.5 1017.1 1293.2 993.6 1296.3 977.9C1299.4 962.2 1302.6 950.4 1305.7 938.6C1308.8 926.8 1311.9 915.5 1315.1 907.1C1318.2 898.7 1322 893 1324.6 888.3C1327.2 883.6 1326.6 884.4 1330.8 878.9C1335 873.4 1344.3 861.5 1350 855C1355.7 848.5 1360.7 843 1365 840C1369.3 837 1374.2 837.5 1376 837" stroke="#000" stroke-width="2.8" fill="none" stroke-linejoin="round" stroke-dasharray="9 4 3.5 4" clip-path="url(#clipb)"/>
<path d="M151.4 822.4h19.6M161.2 812.6v19.6M154.1 815.3l14.1 14.1M154.1 829.5l14.1 -14.1M210.5 800h19.6M220.3 790.2v19.6M213.2 792.9l14.1 14.1M213.2 807.1l14.1 -14.1M223 897.1h19.6M232.8 887.3v19.6M225.7 890l14.1 14.1M225.7 904.2l14.1 -14.1M268.7 951.4h19.6M278.5 941.6v19.6M271.4 944.3l14.1 14.1M271.4 958.5l14.1 -14.1M286 966.4h19.6M295.8 956.6v19.6M288.7 959.3l14.1 14.1M288.7 973.5l14.1 -14.1M414.8 889.1h19.6M424.6 879.3v19.6M417.5 882l14.1 14.1M417.5 896.2l14.1 -14.1M543.7 961h19.6M553.5 951.2v19.6M546.4 953.9l14.1 14.1M546.4 968.1l14.1 -14.1M670.8 920h19.6M680.6 910.2v19.6M673.5 912.9l14.1 14.1M673.5 927.1l14.1 -14.1M799.6 985.1h19.6M809.4 975.3v19.6M802.3 978l14.1 14.1M802.3 992.2l14.1 -14.1M929.1 893.4h19.6M938.9 883.6v19.6M931.8 886.3l14.1 14.1M931.8 900.5l14.1 -14.1M1056.4 1097.3h19.6M1066.2 1087.5v19.6M1059.1 1090.2l14.1 14.1M1059.1 1104.4l14.1 -14.1M1185.4 888.2h19.6M1195.2 878.4v19.6M1188.1 881.1l14.1 14.1M1188.1 895.3l14.1 -14.1M1314.8 888.3h19.6M1324.6 878.5v19.6M1317.5 881.2l14.1 14.1M1317.5 895.4l14.1 -14.1" stroke="#000" stroke-width="3.1" fill="none"/>
<path d="M161.2 819.2C163 823 168.2 831.2 172 842C175.8 852.8 180.2 869 184.1 883.8C187.9 898.6 192.3 920.6 195.1 931C197.9 941.4 199.3 942.3 201 946C202.7 949.7 204.2 950.2 205.3 953C206.4 955.8 207.1 961.3 207.4 963C207.7 952.5 208.5 922.2 209 900C209.5 877.8 210 848.7 210.5 830C211 811.3 211.6 793 212.2 788C212.8 783 213.3 790.5 214 800C214.7 809.5 215.2 830.6 216.5 845C217.8 859.4 219.3 874.4 221.8 886.1C224.3 897.8 227.9 906.4 231.3 915.2C234.7 924 238.1 932.5 242.3 938.8C246.5 945.1 250.9 948.8 256.4 953C261.9 957.2 268.7 958.8 275.3 964C281.9 969.2 290.8 978.2 295.8 984.5C300.8 990.8 302.1 994.7 305.2 1001.8C308.3 1008.9 311.9 1020.6 314.7 1026.9C317.4 1033.2 320.5 1037.4 321.7 1039.5C322.9 1036.5 326 1032.5 328.6 1021.2C331.2 1009.9 334.2 986.8 337.1 971.4C340 956 342.8 940.5 345.7 928.6C348.6 916.8 351.7 904.6 354.3 900.3C356.9 896 358.8 895.3 361.1 902.9C363.4 910.5 366 932.6 368 945.7C370 958.8 372.2 975.7 373.1 981.7C374.2 977.1 377.4 963.1 380 954.3C382.6 945.4 385.2 935.8 388.6 928.6C392 921.5 396 915.7 400.6 911.4C405.2 907.1 411.7 903.8 416 902.9C420.3 902 422.3 903.4 426.3 906.3C430.3 909.1 435.7 914 440 920C444.3 926 449.1 933.7 452 942.3C454.9 950.9 455.7 960.8 457.1 971.4C458.5 982 459.6 993.7 460.6 1005.7C461.6 1017.7 462.7 1037.1 463.1 1043.4C463.5 1035.7 464.7 1014.8 465.7 997.1C466.7 979.4 467.4 951.1 469.1 937.1C470.8 923.1 473.4 917.5 476 913.1C478.6 908.7 480.6 910.3 484.6 910.6C488.6 910.9 494.6 912.8 500 914.9C505.4 917 511.5 919.7 517.2 923.4C522.9 927.1 529.2 930.5 534.3 937.1C539.4 943.7 543.7 954.9 548 962.9C552.3 970.9 557 979.7 560 985.1C563 990.5 563.3 992.2 565.7 995.4C568.1 998.5 570 1001.1 574.3 1004C578.6 1006.9 585.7 1008.3 591.4 1012.6C597.1 1016.9 604.2 1028.3 608.6 1029.7C613 1031.1 615.7 1026 618 1021.2C620.3 1016.4 620.1 1008.9 622.3 1000.6C624.4 992.3 627.5 978.3 630.9 971.4C634.3 964.5 638 963.7 642.9 959.4C647.8 955.1 654.3 951.4 660 945.7C665.7 940 671.4 930.2 677.1 925.1C682.8 920 689.7 917 694.3 914.9C698.9 912.8 700.3 911.2 704.6 912.3C708.9 913.4 716 918.4 720 921.7C724 925 725.8 930.9 728.6 932C731.5 933.1 734.2 929.9 737.1 928.6C740 927.3 742.6 923.7 745.7 924.3C748.9 924.9 752 926.1 756 932C760 937.9 766.1 953.1 769.7 959.4C773.3 965.7 774.8 966.3 777.4 969.7C780 973.1 782.1 977.7 785.4 980C788.7 982.3 793.4 983.7 797.4 983.4C801.4 983.1 806 980 809.4 978.3C812.8 976.6 814.6 974.5 818 973.1C821.4 971.7 826 969 830 969.7C834 970.4 838.9 977.1 842 977.4C845.1 977.7 846.6 977.2 848.9 971.4C851.2 965.5 852.9 952.3 855.7 942.3C858.6 932.3 862 919.7 866 911.4C870 903.1 875.1 896.5 879.7 892.6C884.3 888.8 887.4 888.9 893.4 888.3C899.4 887.7 910 888.2 915.7 889.1C921.4 890 924.1 890.7 927.7 893.4C931.3 896.1 933.4 901.8 937.1 905.4C940.8 909 945 910.8 950 914.9C955 919 960.5 925.2 967.1 930.3C973.7 935.4 983 939.3 989.4 945.7C995.8 952.1 1001 957.2 1005.6 968.9C1010.2 980.5 1014 994.9 1017.2 1015.6C1020.4 1036.4 1022.7 1064.2 1025 1093.4C1027.3 1122.6 1029.2 1163.7 1030.8 1190.6C1032.4 1217.5 1034 1244.1 1034.7 1254.8C1035.7 1244.1 1038.6 1214.3 1040.6 1190.6C1042.5 1166.9 1044.1 1135.5 1046.4 1112.8C1048.7 1090.1 1051 1071.3 1054.2 1054.5C1057.4 1037.7 1061.6 1024.7 1065.8 1011.7C1070 998.7 1073.9 988.9 1079.5 976.7C1085.1 964.6 1093.1 948.5 1099.3 938.8C1105.5 929.1 1111.3 923.6 1116.4 918.3C1121.5 912.9 1125.1 909.1 1130 906.7C1134.9 904.3 1139.8 903.1 1145.6 903.8C1151.4 904.4 1158.5 906.9 1165 910.6C1171.5 914.3 1178.7 920.9 1184.5 926.1C1190.3 931.3 1195.2 935.5 1200 941.7C1204.8 947.9 1209.9 955.2 1213.6 963.1C1217.3 971 1219.4 983.3 1222.4 988.9C1225.5 994.5 1228.9 993.9 1231.9 996.7C1234.9 999.6 1237.4 1005.2 1240.5 1006C1243.6 1006.8 1247.5 1005 1250.7 1001.4C1253.9 997.8 1256.5 991.4 1259.4 984.1C1262.3 976.8 1265 965.8 1268 957.4C1271 949 1273.7 941.5 1277.4 933.9C1281.1 926.3 1285.8 919 1290 911.9C1294.2 904.8 1298.7 897.4 1302.6 891.4C1306.5 885.4 1307.4 883.4 1313.6 875.7C1319.8 868 1333.1 851.3 1340 845C1346.9 838.7 1350.7 837.2 1355 838C1359.3 838.8 1362.5 846.2 1366 850C1369.5 853.8 1374.3 859.2 1376 861" stroke="#000" stroke-width="2.7" fill="none" stroke-linejoin="round" stroke-linecap="round" clip-path="url(#clipb)"/>
<path d="M161.2 804.9L170.4 819.2L161.2 833.5L152 819.2ZM205.3 938.7L214.5 953L205.3 967.3L196.1 953ZM221.8 871.8L231 886.1L221.8 900.4L212.6 886.1ZM275.3 949.7L284.5 964L275.3 978.3L266.1 964ZM295.8 970.2L305 984.5L295.8 998.8L286.6 984.5ZM456.3 971.7L465.5 986L456.3 1000.3L447.1 986ZM618 1006.9L627.2 1021.2L618 1035.5L608.8 1021.2ZM777.4 955.4L786.6 969.7L777.4 984L768.2 969.7ZM937.1 891.1L946.3 905.4L937.1 919.7L927.9 905.4ZM1099.3 924.5L1108.5 938.8L1099.3 953.1L1090.1 938.8ZM1259.4 969.8L1268.6 984.1L1259.4 998.4L1250.2 984.1Z" stroke="#000" stroke-width="3" fill="#fff" stroke-linejoin="miter"/>
<path d="M183 758.6H243.3" stroke="#262626" stroke-width="1.8" fill="none" stroke-dasharray="11.8 7.6" stroke-dashoffset="4.7"/>
<path d="M183 758.6V1074.1" stroke="#262626" stroke-width="1.8" fill="none" stroke-dasharray="11.8 7.6" stroke-dashoffset="7.4"/>
<path d="M243.3 758.6V1074.1" stroke="#262626" stroke-width="1.8" fill="none" stroke-dasharray="11.8 7.6" stroke-dashoffset="6.9"/>
<path d="M183 1074.1H243.3" stroke="#262626" stroke-width="1.8" fill="none" stroke-dasharray="11.8 7.6" stroke-dashoffset="17.4"/>
<path d="M242.3 959.3L311.3 1051.9" stroke="#000" stroke-width="1.5"/>
<path d="M317.9 1060.7L308.1 1054.3L314.5 1049.5Z" fill="#000"/>
<rect x="262.3" y="1058.9" width="335.7" height="203.6" fill="#fff"/>
<text x="297.2" y="1284.5" font-size="14" text-anchor="middle" fill="#222">3</text>
<text x="341.7" y="1284.5" font-size="14" text-anchor="middle" fill="#222">3.5</text>
<text x="386.3" y="1284.5" font-size="14" text-anchor="middle" fill="#222">4</text>
<text x="430.9" y="1284.5" font-size="14" text-anchor="middle" fill="#222">4.5</text>
<text x="475.4" y="1284.5" font-size="14" text-anchor="middle" fill="#222">5</text>
<text x="519.4" y="1284.5" font-size="14" text-anchor="middle" fill="#222">5.5</text>
<text x="564" y="1284.5" font-size="14" text-anchor="middle" fill="#222">6</text>
<text x="256.3" y="1088.6" font-size="14" text-anchor="end" fill="#222">-5</text>
<text x="256.3" y="1136.5" font-size="14" text-anchor="end" fill="#222">-10</text>
<text x="256.3" y="1184.7" font-size="14" text-anchor="end" fill="#222">-15</text>
<text x="256.3" y="1232.6" font-size="14" text-anchor="end" fill="#222">-20</text>
<clipPath id="iclipb"><rect x="262.3" y="1058.9" width="335.7" height="203.6"/></clipPath>
<path d="M297.2 1262.5v-3.5M297.2 1058.9v3.5M341.7 1262.5v-3.5M341.7 1058.9v3.5M386.3 1262.5v-3.5M386.3 1058.9v3.5M430.9 1262.5v-3.5M430.9 1058.9v3.5M475.4 1262.5v-3.5M475.4 1058.9v3.5M519.4 1262.5v-3.5M519.4 1058.9v3.5M564 1262.5v-3.5M564 1058.9v3.5M262.3 1083.4h3.5M598 1083.4h-3.5M262.3 1131.3h3.5M598 1131.3h-3.5M262.3 1179.5h3.5M598 1179.5h-3.5M262.3 1227.4h3.5M598 1227.4h-3.5" stroke="#262626" stroke-width="1.3" fill="none"/>
<rect x="262.3" y="1058.9" width="335.7" height="203.6" stroke="#262626" stroke-width="1.6" fill="none"/>
<path d="M261.8 1126.6C265.1 1129.1 276.1 1136 281.3 1141.9C286.5 1147.8 289.1 1152.6 293 1162C296.9 1171.4 301.7 1187.2 304.9 1198.4C308.1 1209.7 310.2 1220.3 312.3 1229.5C314.4 1238.7 316.3 1247.4 317.5 1253.3C318.7 1259.2 319.3 1263 319.7 1265C320.3 1261.7 322.2 1254.3 323.1 1245C324 1235.7 324.2 1221.6 325.1 1209.1C326 1196.6 327.5 1182.4 328.6 1170C329.7 1157.6 329.9 1147.5 331.5 1134.5C333.1 1121.5 336.4 1100.5 337.9 1092C339.4 1083.5 339.1 1088.1 340.3 1083.4C341.5 1078.7 343.5 1068 345.3 1063.9C347.1 1059.8 348.6 1058 350.9 1058.9C353.2 1059.8 356.2 1065.2 359.3 1069.5C362.4 1073.8 365 1079.2 369.6 1084.8C374.2 1090.4 379.5 1096.2 387.1 1102.9C394.7 1109.6 406.4 1119.6 415 1125.2C423.6 1130.8 429.4 1132.9 438.7 1136.4C448 1139.9 460.7 1143.5 470.7 1146.1C480.7 1148.6 488.9 1150.1 498.6 1151.7C508.4 1153.3 519.1 1154.7 529.2 1155.8C539.3 1156.9 547.8 1157.6 559.3 1158.6C570.8 1159.6 591.5 1161.4 598 1162" stroke="#000" stroke-width="4.5" fill="none" stroke-linejoin="round" stroke-linecap="round" clip-path="url(#iclipb)"/>
<g fill="#fff" stroke="#000" stroke-width="4.2"><circle cx="261.8" cy="1126.6" r="6.3"/><circle cx="312.5" cy="1229.7" r="6.3"/><circle cx="340.3" cy="1083.4" r="6.3"/><circle cx="369.6" cy="1084.8" r="6.3"/><circle cx="438.7" cy="1136.4" r="6.3"/><circle cx="529.2" cy="1155.8" r="6.3"/><circle cx="559.3" cy="1158.6" r="6.3"/></g>
<path d="M261.8 1123.8C265.5 1126.3 277.8 1133.8 284.1 1139.1C290.4 1144.4 295.2 1149 299.5 1155.8C303.8 1162.6 306.8 1171.1 310 1180C313.2 1188.9 316.5 1200.8 318.7 1209.1C320.9 1217.4 321.4 1222.8 323 1230C324.6 1237.2 327.2 1248.8 328 1252.5C328.6 1248.9 330.5 1238.3 331.4 1231.1C332.3 1223.9 332.7 1220.7 333.6 1209.1C334.5 1197.5 335.5 1181 337 1161.4C338.5 1141.9 340.8 1107.6 342.6 1091.8C344.5 1076 346.4 1069.5 348.1 1066.7C349.8 1063.9 350.9 1070.3 353 1075C355.1 1079.7 356.9 1087.6 360.7 1094.6C364.5 1101.6 369.3 1109.5 376 1116.9C382.7 1124.3 390.7 1131.4 401.1 1139.1C411.6 1146.8 427.1 1157.7 438.7 1162.8C450.3 1167.9 458.4 1167.2 470.7 1169.8C483 1172.3 500.9 1175.8 512.5 1178.1C524.1 1180.4 531 1181.8 540.3 1183.7C549.6 1185.6 558.6 1187.2 568.2 1189.3C577.8 1191.4 593 1195 598 1196.2" stroke="#000" stroke-width="2.8" fill="none" stroke-linejoin="round" stroke-dasharray="9 4 3.5 4" clip-path="url(#iclipb)"/>
<path d="M312.2 1215.5h13M318.7 1209v13M314 1210.8l9.4 9.4M314 1220.2l9.4 -9.4M354.2 1094.6h13M360.7 1088.1v13M356 1089.9l9.4 9.4M356 1099.3l9.4 -9.4M432.2 1162.8h13M438.7 1156.3v13M434 1158.1l9.4 9.4M434 1167.5l9.4 -9.4M533.8 1183.7h13M540.3 1177.2v13M535.6 1179l9.4 9.4M535.6 1188.4l9.4 -9.4" stroke="#000" stroke-width="3" fill="none"/>
<path d="M261.8 1118.2C265.5 1119.8 276.2 1122.7 284.1 1128C292 1133.3 302.6 1143.3 309.1 1150.3C315.6 1157.3 320.1 1164.5 323.1 1169.8C326.1 1175.1 325.6 1178.3 327.2 1182C328.8 1185.7 331.9 1190.3 332.8 1192C333.5 1182.3 335.4 1152.6 337 1133.6C338.6 1114.6 341 1088.6 342.6 1077.9C344.2 1067.2 344.9 1065.8 346.7 1069.5C348.5 1073.2 350.7 1090.3 353.7 1100.1C356.7 1109.8 360.2 1120.6 364.8 1128C369.4 1135.4 374.9 1139.1 381 1144.7C387.1 1150.3 390.8 1156.1 401.1 1161.4C411.4 1166.7 426.6 1172.8 442.8 1176.7C459.1 1180.7 484.3 1182.8 498.6 1185.1C512.9 1187.4 519.1 1188.6 528.4 1190.7C537.7 1192.8 542.7 1193.9 554.3 1197.6C565.9 1201.3 590.7 1210.4 598 1213" stroke="#000" stroke-width="2.7" fill="none" stroke-linejoin="round" stroke-linecap="round" clip-path="url(#iclipb)"/>
<path d="M261.8 1108.9L267.6 1118.2L261.8 1127.5L256 1118.2ZM332.8 1182.2L338.6 1191.5L332.8 1200.8L327 1191.5ZM381 1135.4L386.8 1144.7L381 1154L375.2 1144.7ZM528.4 1181.4L534.2 1190.7L528.4 1200L522.6 1190.7Z" stroke="#000" stroke-width="2.8" fill="#fff" stroke-linejoin="miter"/>
<rect x="1194.3" y="752.3" width="173.4" height="124.1" fill="#fff" stroke="#262626" stroke-width="1.5"/>
<path d="M1199 773.8H1247.2" stroke="#000" stroke-width="4.5" fill="none" stroke-linejoin="butt" stroke-linecap="butt"/>
<g fill="#fff" stroke="#000" stroke-width="4.1"><circle cx="1222.9" cy="773.8" r="9.5"/></g>
<text x="1250.5" y="787.5" font-size="32.5">P=2mm</text>
<path d="M1199 815.1H1247.2" stroke="#000" stroke-width="2.8" stroke-dasharray="9 4 3.5 4"/>
<path d="M1213.1 815.1h19.6M1222.9 805.3v19.6M1215.8 808l14.1 14.1M1215.8 822.2l14.1 -14.1" stroke="#000" stroke-width="3.1" fill="none"/>
<text x="1250.5" y="828.8" font-size="32.5">P=3mm</text>
<path d="M1199 855.5H1247.2" stroke="#000" stroke-width="2.7" fill="none" stroke-linejoin="butt" stroke-linecap="butt"/>
<path d="M1222.9 841.2L1232.1 855.5L1222.9 869.8L1213.7 855.5Z" stroke="#000" stroke-width="3" fill="#fff" stroke-linejoin="miter"/>
<text x="1250.5" y="869.2" font-size="32.5">P=4mm</text>
<text x="98.2" y="1337.8" font-size="32.5" text-anchor="middle">0</text>
<text x="258.5" y="1337.8" font-size="32.5" text-anchor="middle">5</text>
<text x="418.9" y="1337.8" font-size="32.5" text-anchor="middle">10</text>
<text x="579.2" y="1337.8" font-size="32.5" text-anchor="middle">15</text>
<text x="739.6" y="1337.8" font-size="32.5" text-anchor="middle">20</text>
<text x="899.9" y="1337.8" font-size="32.5" text-anchor="middle">25</text>
<text x="1060.2" y="1337.8" font-size="32.5" text-anchor="middle">30</text>
<text x="1220.6" y="1337.8" font-size="32.5" text-anchor="middle">35</text>
<text x="1380.9" y="1337.8" font-size="32.5" text-anchor="middle">40</text>
<text x="86.7" y="752.2" font-size="32.5" text-anchor="end">0</text>
<text x="86.7" y="891" font-size="32.5" text-anchor="end">-10</text>
<text x="86.7" y="1029.9" font-size="32.5" text-anchor="end">-20</text>
<text x="86.7" y="1168.8" font-size="32.5" text-anchor="end">-30</text>
<text x="86.7" y="1307.6" font-size="32.5" text-anchor="end">-40</text>
<text transform="translate(27.3 1016.6) rotate(-90)" font-size="36.9" text-anchor="middle">S11 (dB)</text>
<text x="610" y="1382.4" font-size="35.3">frequency (GHz)</text>
<text x="663.7" y="1431.3" font-size="44" letter-spacing="2" style="font-family:'Liberation Serif',serif">(b)</text>
<path d="M259.3 1463.1V2018.6M419.5 1463.1V2018.6M579.8 1463.1V2018.6M740 1463.1V2018.6M900.3 1463.1V2018.6M1060.6 1463.1V2018.6M1220.8 1463.1V2018.6" stroke="#262626" stroke-opacity="0.17" stroke-width="1.4" fill="none"/>
<path d="M99 1602H1381.1M99 1740.8H1381.1M99 1879.7H1381.1" stroke="#262626" stroke-opacity="0.17" stroke-width="1.4" fill="none"/>
<clipPath id="clipc"><rect x="99" y="1463.1" width="1282.1" height="555.5"/></clipPath>
<path d="M99 2018.6v-12.5M99 1463.1v12.5M259.3 2018.6v-12.5M259.3 1463.1v12.5M419.5 2018.6v-12.5M419.5 1463.1v12.5M579.8 2018.6v-12.5M579.8 1463.1v12.5M740 2018.6v-12.5M740 1463.1v12.5M900.3 2018.6v-12.5M900.3 1463.1v12.5M1060.6 2018.6v-12.5M1060.6 1463.1v12.5M1220.8 2018.6v-12.5M1220.8 1463.1v12.5M1381.1 2018.6v-12.5M1381.1 1463.1v12.5M99 1463.1h12.5M1381.1 1463.1h-12.5M99 1602h12.5M1381.1 1602h-12.5M99 1740.8h12.5M1381.1 1740.8h-12.5M99 1879.7h12.5M1381.1 1879.7h-12.5M99 2018.6h12.5M1381.1 2018.6h-12.5" stroke="#262626" stroke-width="1.5" fill="none"/>
<rect x="99" y="1463.1" width="1282.1" height="555.5" stroke="#262626" stroke-width="1.6" fill="none"/>
<path d="M162 1547.1C163.6 1550.5 168.1 1558.1 171.5 1567.6C174.9 1577 179.3 1591.2 182.5 1603.8C185.7 1616.4 188.5 1628.7 190.4 1643.1C192.3 1657.5 193.1 1673.8 194 1690C194.9 1706.2 195.3 1727.5 195.9 1740C196.5 1752.5 197.2 1760.8 197.5 1765C198.4 1754.2 201.7 1727.5 203 1700C204.3 1672.5 204.7 1631.7 205.5 1600C206.3 1568.3 207.1 1527.7 207.7 1510C208.3 1492.3 208.5 1494.8 209.2 1494C209.9 1493.2 210.6 1496.4 212 1505C213.4 1513.6 215.9 1534.7 217.9 1545.5C219.9 1556.3 221.6 1563 224 1570C226.4 1577 229 1581.6 232.1 1587.2C235.2 1592.8 238 1597.6 242.3 1603.8C246.6 1610 252.4 1619.8 258 1624.2C263.6 1628.7 271.2 1628.4 276.1 1630.5C281 1632.6 282.2 1634.4 287.1 1636.8C292 1639.2 299.7 1642.2 305.2 1644.7C310.7 1647.2 316 1649.8 320 1652C324 1654.2 325.7 1658.6 329.4 1658C333.1 1657.4 337.3 1652.2 342.3 1648.6C347.3 1645 355.4 1637.5 359.4 1636.6C363.4 1635.7 364.3 1639.1 366.3 1643.4C368.3 1647.7 369.1 1655.2 371.4 1662.3C373.7 1669.4 378.6 1682.3 380 1686.3C381.4 1682.9 385.5 1672 388.6 1665.7C391.8 1659.4 394.9 1653.2 398.9 1648.6C402.9 1644 408.3 1640.6 412.6 1638.3C416.9 1636 420 1636.3 424.6 1634.9C429.2 1633.5 435.1 1631.4 440 1629.7C444.9 1628 449.4 1625.4 453.7 1624.6C458 1623.8 462.3 1622.6 465.7 1624.6C469.1 1626.6 471.7 1629.8 474.3 1636.6C476.9 1643.4 479.2 1653.7 481.2 1665.7C483.2 1677.7 484.6 1694.6 486.3 1708.6C488 1722.6 490.5 1742.8 491.4 1749.7C492.3 1748.6 494.9 1749.8 496.6 1742.9C498.3 1736.1 499.7 1719.2 501.7 1708.6C503.7 1698 506 1687.4 508.6 1679.4C511.2 1671.4 515.1 1665 517.2 1660.6C519.3 1656.2 519.4 1656.1 521.4 1652.9C523.4 1649.8 526.2 1645.3 529.2 1641.7C532.2 1638.1 536.3 1630.8 539.4 1631.4C542.5 1632 544.8 1636.5 548 1645.1C551.2 1653.7 555.9 1670.9 558.9 1682.9C561.9 1694.9 563.5 1704.2 565.7 1717C567.9 1729.8 568.8 1742.8 572 1760C575.2 1777.2 579.5 1801.7 585 1820C590.5 1838.3 598.5 1853.9 605 1870C611.5 1886.1 620 1901.5 624.3 1916.4C628.6 1931.3 629.6 1952.2 630.7 1959.3C631.5 1951.6 634.2 1927.8 635.7 1912.9C637.2 1898 638.5 1885.2 640 1870C641.5 1854.8 642.4 1835.8 644.4 1821.5C646.4 1807.2 649.4 1798 651.9 1784.4C654.4 1770.8 657.4 1752.6 659.3 1740C661.2 1727.4 660.4 1720.1 663.4 1708.6C666.4 1697.1 672.8 1680.3 677.1 1670.9C681.4 1661.5 685.8 1655.7 689.2 1652C692.6 1648.3 694.9 1648 697.7 1648.6C700.6 1649.2 704 1652 706.3 1655.4C708.6 1658.8 710.1 1664.5 711.4 1669.1C712.7 1673.7 713.1 1677.8 714 1682.9C714.9 1688.1 715.3 1691.4 716.6 1700C717.9 1708.6 719.9 1721.7 721.7 1734.3C723.6 1746.9 726.7 1768.6 727.7 1775.4C728.7 1772.8 731.6 1765.4 733.7 1760C735.9 1754.6 738.6 1746.6 740.6 1742.9C742.6 1739.2 743.4 1737.4 745.7 1737.7C748 1738 751.4 1741.4 754.3 1744.6C757.2 1747.8 760 1753.8 762.9 1756.6C765.8 1759.4 767.9 1762.5 771.4 1761.7C774.9 1760.9 779.4 1754.5 783.7 1752C788 1749.5 793 1746.3 797.4 1746.9C801.8 1747.5 806.3 1752 810.3 1755.4C814.3 1758.8 817.3 1763.4 821.4 1767.4C825.5 1771.4 831.4 1774 835.1 1779.4C838.8 1784.8 841.1 1792.3 843.7 1800C846.3 1807.7 848.3 1816.9 850.6 1825.7C852.9 1834.5 856.4 1848.5 857.5 1853C858.9 1850.8 863.1 1848.8 866 1840C868.9 1831.2 871.2 1813.8 874.6 1800C878 1786.2 882.6 1769.1 886.6 1757.1C890.6 1745.1 895.2 1735.3 898.6 1728C902 1720.7 904.4 1719.7 907.2 1713.4C910.1 1707.1 912.3 1698.7 915.7 1690.3C919.1 1681.9 923.4 1670.1 927.7 1662.9C932 1655.8 936.2 1651.1 941.4 1647.4C946.5 1643.7 952.9 1643.2 958.6 1640.6C964.3 1638 970.6 1634.9 975.7 1632C980.8 1629.1 984.8 1626.1 989.4 1623.4C994 1620.7 998.1 1616.8 1003.4 1615.7C1008.6 1614.6 1015.1 1613.3 1020.9 1616.6C1026.7 1619.9 1032.9 1627.7 1038 1635.4C1043.1 1643.1 1047.7 1653.2 1051.7 1662.9C1055.7 1672.6 1059.1 1683.4 1062 1693.7C1064.9 1704 1066.6 1712.6 1068.9 1724.6C1071.2 1736.6 1073.4 1751.7 1075.7 1765.7C1078 1779.7 1080.6 1799.4 1082.6 1808.6C1084.6 1817.8 1086.8 1818.6 1087.7 1820.6C1088.6 1819.2 1091.2 1818.3 1092.9 1812C1094.6 1805.7 1096.3 1792 1098 1782.9C1099.7 1773.8 1101.1 1765.8 1103.1 1757.2C1105.1 1748.6 1106.6 1740.6 1110 1731.4C1113.4 1722.2 1119.1 1712.3 1123.7 1702.3C1128.3 1692.3 1132.5 1680.3 1137.4 1671.4C1142.3 1662.5 1148 1653.9 1152.9 1649.1C1157.8 1644.2 1162.3 1641.1 1166.6 1642.3C1170.9 1643.5 1173.8 1653.2 1178.6 1656C1183.4 1658.8 1190.6 1660.7 1195.7 1659.1C1200.8 1657.5 1205.5 1647.9 1209.4 1646.3C1213.3 1644.7 1215.2 1646.1 1218.9 1649.5C1222.6 1652.9 1227.8 1660.2 1231.5 1666.8C1235.2 1673.3 1237.8 1678.6 1240.9 1688.8C1244.1 1699 1247.5 1713.8 1250.4 1728.2C1253.3 1742.6 1255.6 1759.7 1258.2 1775.4C1260.8 1791.1 1263.8 1808.5 1266.1 1822.6C1268.4 1836.7 1271 1853.8 1272 1860C1273.1 1856.7 1276 1852.7 1278.7 1839.9C1281.4 1827.1 1285.9 1795.8 1288.1 1783.2C1290.3 1770.6 1291 1771 1292.1 1764.4C1293.1 1757.9 1292.7 1755.2 1294.4 1743.9C1296.1 1732.6 1299.2 1712.4 1302.3 1696.7C1305.4 1681 1309.4 1662.6 1313.3 1649.5C1317.2 1636.4 1322 1625.9 1325.9 1618C1329.8 1610.1 1332.6 1607.5 1336.9 1602.3C1341.2 1597.1 1346.8 1591.7 1352 1587C1357.2 1582.3 1363.8 1577.5 1368 1574C1372.2 1570.5 1375.5 1567.3 1377 1566" stroke="#000" stroke-width="4.5" fill="none" stroke-linejoin="round" stroke-linecap="round" clip-path="url(#clipc)"/>
<g fill="#fff" stroke="#000" stroke-width="4.1"><circle cx="162" cy="1547.1" r="9.5"/><circle cx="195.9" cy="1757.2" r="9.5"/><circle cx="207.7" cy="1496.8" r="9.5"/><circle cx="217.9" cy="1545.5" r="9.5"/><circle cx="232.1" cy="1587.2" r="9.5"/><circle cx="276.1" cy="1630.5" r="9.5"/><circle cx="287.1" cy="1636.8" r="9.5"/><circle cx="328" cy="1657.3" r="9.5"/><circle cx="424.6" cy="1634.9" r="9.5"/><circle cx="521.4" cy="1652.9" r="9.5"/><circle cx="618.3" cy="1895" r="9.5"/><circle cx="714" cy="1682.9" r="9.5"/><circle cx="810.3" cy="1755.4" r="9.5"/><circle cx="907.2" cy="1713.4" r="9.5"/><circle cx="1003.4" cy="1615.7" r="9.5"/><circle cx="1099.7" cy="1781.2" r="9.5"/><circle cx="1195.7" cy="1659.1" r="9.5"/><circle cx="1292.1" cy="1764.4" r="9.5"/></g>
<path d="M162 1547.1C163.6 1550.4 168.2 1558.2 171.5 1567C174.8 1575.8 178.9 1587.8 182 1600C185.1 1612.2 187.7 1623.3 190 1640C192.3 1656.7 194.4 1680 196 1700C197.6 1720 198.7 1745 199.8 1760C200.9 1775 202.1 1785 202.5 1790C202.9 1778.3 204.1 1747.1 205 1720C205.9 1692.9 206.9 1658.6 207.7 1627.4C208.5 1596.2 209.5 1553.9 210 1533C210.5 1512.1 210.3 1506.7 210.8 1502C211.3 1497.3 211.7 1498.5 213 1505C214.3 1511.5 216.2 1529.8 218.7 1540.8C221.2 1551.8 224.2 1561 228.1 1570.7C232 1580.4 237 1590.8 242.3 1599C247.6 1607.2 253.4 1614.5 260 1620C266.6 1625.5 274.9 1628.8 281.6 1632.1C288.3 1635.4 294.8 1637.9 300 1640C305.2 1642.1 309.8 1643.3 313.1 1644.7C316.4 1646.1 316 1649.7 320 1648.6C324 1647.5 330 1642.9 337.1 1638.3C344.2 1633.7 357.2 1622.8 362.9 1621.1C368.6 1619.4 368.5 1624.3 371.4 1628C374.2 1631.7 377.1 1641.1 380 1643.4C382.9 1645.7 384.9 1643.7 388.6 1641.7C392.3 1639.7 396.3 1634.2 402.3 1631.4C408.3 1628.6 418.3 1625.7 424.6 1624.6C430.9 1623.5 435.1 1625 440 1624.6C444.9 1624.2 448.8 1622.3 453.7 1622C458.6 1621.7 464.5 1619.9 469.1 1622.9C473.7 1625.9 477.8 1632.9 481.2 1640C484.6 1647.1 487.1 1654.3 489.7 1665.7C492.3 1677.1 494.3 1694 496.6 1708.6C498.9 1723.2 502.3 1745.8 503.4 1753.2C504.3 1750 506.6 1746 508.6 1734.3C510.6 1722.6 512.5 1698.1 515.4 1682.9C518.2 1667.8 522 1651.4 525.7 1643.4C529.4 1635.4 533.7 1632.6 537.7 1634.9C541.7 1637.2 546.8 1650.8 549.7 1657.1C552.7 1663.4 552.7 1664 555.4 1672.6C558.1 1681.2 562.6 1696.9 565.7 1708.6C568.9 1720.3 571.9 1731.8 574.3 1742.9C576.7 1754 576.5 1760.5 580 1775C583.5 1789.5 590 1816.7 595 1830C600 1843.3 606.3 1850.3 610 1855C613.7 1859.7 615.8 1857.5 617 1858C617.8 1851.7 620.5 1831.5 622 1820C623.5 1808.5 623.4 1799.2 625.7 1789.2C628 1779.2 631.7 1772 636 1760C640.3 1748 646 1731.4 651.4 1717.1C656.8 1702.8 663.6 1686.7 668.6 1674.3C673.6 1661.9 677.1 1650.6 681.4 1642.6C685.7 1634.6 689.3 1630.2 694.3 1626.3C699.3 1622.4 705.7 1618.8 711.4 1619.4C717.1 1620 722.9 1623.1 728.6 1629.7C734.3 1636.3 740.9 1647.2 745.7 1658.9C750.6 1670.6 754.3 1688 757.7 1700C761.1 1712 763.4 1724.3 766.3 1730.9C769.2 1737.5 771.4 1740.5 774.9 1739.4C778.4 1738.4 781.2 1726.6 787.1 1724.6C793 1722.5 804.6 1724.5 810.3 1727.1C816 1729.7 817.8 1734.4 821.4 1740C825 1745.6 828.3 1755.7 831.7 1760.6C835.1 1765.5 838.6 1769.8 842 1769.2C845.4 1768.6 848.6 1763.4 852.3 1757.1C856 1750.8 860.3 1738.5 864.3 1731.4C868.3 1724.3 871.4 1718 876.3 1714.3C881.1 1710.6 889.1 1712.1 893.4 1709.2C897.7 1706.3 898.9 1703.4 902 1697.1C905.1 1690.8 908.6 1679.1 912.3 1671.4C916 1663.7 920 1656 924.3 1650.9C928.6 1645.8 932.9 1642.6 938 1640.6C943.1 1638.6 950.2 1637.8 955.1 1638.9C960 1640 962.8 1643.7 967.1 1647.4C971.4 1651.1 976.6 1657.8 980.9 1661.1C985.2 1664.4 989.7 1667.4 992.9 1667.1C996.1 1666.8 996.5 1662.4 1000.3 1659.4C1004.1 1656.4 1010.3 1649.7 1015.7 1649.1C1021.1 1648.5 1027.8 1652 1032.9 1656C1038.1 1660 1042.3 1666.2 1046.6 1673.1C1050.9 1679.9 1055.3 1687.8 1058.6 1697.1C1061.9 1706.4 1064 1718.9 1066.3 1728.9C1068.6 1738.9 1070.2 1747.9 1072.3 1757.2C1074.4 1766.5 1076.7 1778.2 1079 1785C1081.3 1791.8 1084.8 1795.8 1086 1798C1087.5 1795.8 1092.2 1792.2 1095 1785C1097.8 1777.8 1100.5 1762.8 1103 1755C1105.5 1747.2 1107.7 1741.1 1110 1738C1112.3 1734.9 1112.6 1735.1 1116.9 1736.6C1121.2 1738.1 1129.4 1747.5 1135.7 1746.9C1142 1746.3 1148.9 1732.9 1154.6 1733.2C1160.3 1733.5 1166 1748.9 1170 1748.6C1174 1748.3 1175.7 1740 1178.6 1731.4C1181.5 1722.8 1184.3 1705.5 1187.2 1697.1C1190.1 1688.7 1192.3 1682 1195.7 1680.9C1199.1 1679.8 1204.9 1687.7 1207.7 1690.3C1210.5 1692.9 1209.9 1691.7 1212.6 1696.7C1215.2 1701.7 1220.4 1716.1 1223.6 1720.3C1226.8 1724.5 1228.6 1721.9 1231.5 1721.9C1234.4 1721.9 1237.8 1718 1240.9 1720.3C1244.1 1722.6 1247.2 1730.2 1250.4 1736C1253.6 1741.8 1257.3 1751 1259.8 1754.9C1262.3 1758.8 1263.2 1761.2 1265.3 1759.6C1267.4 1758 1269.9 1753.4 1272.4 1745.5C1274.9 1737.6 1277.4 1724.5 1280.3 1712.4C1283.2 1700.3 1286.3 1684.9 1289.7 1673.1C1293.1 1661.3 1296.8 1650.8 1300.7 1641.6C1304.6 1632.4 1309.6 1624.3 1313.3 1618C1317 1611.7 1318.2 1609.4 1322.7 1603.9C1327.2 1598.4 1334.1 1591 1340 1585C1345.9 1579 1352 1572.8 1358 1568C1364 1563.2 1373 1558 1376 1556" stroke="#000" stroke-width="2.8" fill="none" stroke-linejoin="round" stroke-dasharray="9 4 3.5 4" clip-path="url(#clipc)"/>
<path d="M152.2 1547.1h19.6M162 1537.3v19.6M154.9 1540l14.1 14.1M154.9 1554.2l14.1 -14.1M189.4 1779.2h19.6M199.2 1769.4v19.6M192.1 1772.1l14.1 14.1M192.1 1786.3l14.1 -14.1M198.7 1499h19.6M208.5 1489.2v19.6M201.4 1491.9l14.1 14.1M201.4 1506.1l14.1 -14.1M414.8 1624.6h19.6M424.6 1614.8v19.6M417.5 1617.5l14.1 14.1M417.5 1631.7l14.1 -14.1M545.6 1672.6h19.6M555.4 1662.8v19.6M548.3 1665.5l14.1 14.1M548.3 1679.7l14.1 -14.1M671.6 1642.6h19.6M681.4 1632.8v19.6M674.3 1635.5l14.1 14.1M674.3 1649.7l14.1 -14.1M800.5 1727.1h19.6M810.3 1717.3v19.6M803.2 1720l14.1 14.1M803.2 1734.2l14.1 -14.1M928.2 1640.6h19.6M938 1630.8v19.6M930.9 1633.5l14.1 14.1M930.9 1647.7l14.1 -14.1M1056.5 1728.9h19.6M1066.3 1719.1v19.6M1059.2 1721.8l14.1 14.1M1059.2 1736l14.1 -14.1M1185.9 1680.9h19.6M1195.7 1671.1v19.6M1188.6 1673.8l14.1 14.1M1188.6 1688l14.1 -14.1M1312.9 1603.9h19.6M1322.7 1594.1v19.6M1315.6 1596.8l14.1 14.1M1315.6 1611l14.1 -14.1" stroke="#000" stroke-width="3.1" fill="none"/>
<path d="M162 1545.5C163.3 1548.8 167.1 1556.6 170 1565C172.9 1573.4 175.7 1585.5 179.3 1595.9C183 1606.3 188.5 1616.9 191.9 1627.4C195.3 1637.9 197.6 1644.2 199.8 1658.8C202 1673.3 203.9 1694.5 205.3 1714.7C206.7 1734.9 207.2 1761 208 1780C208.8 1799 210 1820.8 210.4 1829C210.8 1822.5 212.3 1802.7 213 1790C213.7 1777.3 213.8 1780.1 214.5 1753C215.2 1725.9 216.3 1664.1 217.1 1627.4C217.9 1590.7 218.8 1552.7 219.5 1533C220.2 1513.3 220.5 1514.5 221 1509.3C221.5 1504 221.9 1501 222.6 1501.5C223.3 1502 224.1 1506.8 225 1512C225.9 1517.2 226.5 1524.3 228.1 1533C229.7 1541.7 232 1555 234.4 1564.4C236.8 1573.8 239.2 1581.7 242.3 1589.6C245.5 1597.5 249.4 1605.6 253.3 1611.6C257.2 1617.6 262.1 1621.3 265.9 1625.8C269.7 1630.3 272.9 1635.5 276.1 1638.4C279.3 1641.3 281.7 1641.7 285 1643C288.3 1644.3 291.4 1645.9 295.8 1646.2C300.2 1646.5 306 1645.8 311.5 1644.7C317 1643.7 324.5 1641.8 328.8 1639.9C333.1 1638 332.9 1636.8 337.1 1633.1C341.4 1629.4 349.2 1621 354.3 1617.7C359.4 1614.4 364.3 1613.1 368 1613.4C371.7 1613.7 373.8 1617.2 376.6 1619.4C379.5 1621.6 381.7 1626.3 385.1 1626.3C388.5 1626.3 392.2 1621 397.1 1619.4C402 1617.8 407.2 1617.3 414.3 1616.9C421.4 1616.5 432.7 1617.1 440 1616.9C447.3 1616.8 452.9 1616 458 1616C463.1 1616 466.2 1614.9 470.9 1616.9C475.6 1618.9 482 1621.3 486.3 1628C490.6 1634.7 493.5 1645.1 496.6 1657.1C499.7 1669.1 502.8 1685.7 505.1 1700C507.4 1714.3 508.9 1730.3 510.3 1742.9C511.7 1755.5 512.8 1767.6 513.7 1775.4C514.7 1783.2 515.6 1787.6 516 1790C516.5 1787.6 517.6 1787.6 518.9 1775.4C520.2 1763.2 522.3 1736.8 524 1717.1C525.7 1697.4 527.5 1670.8 529.2 1657.1C530.9 1643.4 532.3 1639.2 534.3 1634.9C536.3 1630.6 538.6 1629.1 541.2 1631.4C543.8 1633.7 547.1 1641.2 549.7 1648.6C552.4 1656 554.4 1665.4 557.1 1676C559.8 1686.6 562.8 1700 565.7 1712C568.6 1724 571.1 1735 574.3 1748C577.5 1761 580.7 1780.5 585 1790C589.3 1799.5 595.5 1805.8 600 1805C604.5 1804.2 609 1790.8 612 1785C615 1779.2 616.3 1773 618 1770.3C619.7 1767.6 619.6 1773.2 622.3 1768.6C625 1764 629.4 1753.8 634.3 1742.9C639.1 1732 645.7 1716.3 651.4 1703.4C657.1 1690.5 662.9 1677.4 668.6 1665.7C674.3 1654 680.9 1640.8 685.7 1633.1C690.6 1625.4 693.4 1622.7 697.7 1619.4C702 1616.1 706.2 1613.4 711.4 1613.4C716.5 1613.4 722.9 1615.8 728.6 1619.4C734.3 1623 740.6 1627.8 745.7 1634.9C750.8 1642.1 755.4 1651.5 759.4 1662.3C763.4 1673.1 766.8 1689.9 769.7 1700C772.6 1710.1 775.4 1717.7 776.9 1722.9C778.4 1728.1 777.5 1725.7 778.6 1731.4C779.7 1737.1 781.6 1747.1 783.7 1757.1C785.8 1767.1 790.1 1785.7 791.4 1791.4C792.7 1790.6 797 1792 799.1 1786.3C801.2 1780.6 802 1766.8 804.3 1757.1C806.6 1747.4 809.5 1735.4 812.9 1728C816.3 1720.6 820.6 1718 824.9 1712.6C829.2 1707.2 834.3 1702.3 838.6 1695.4C842.9 1688.5 846.6 1679.7 850.6 1671.4C854.6 1663.1 858.9 1653.4 862.6 1645.7C866.3 1638 868.9 1631.4 872.9 1625.1C876.9 1618.8 881.5 1612.4 886.6 1608C891.7 1603.6 896.9 1601.2 903.7 1598.6C910.6 1596 921.8 1593.5 927.7 1592.6C933.6 1591.7 935.2 1592.8 938.9 1593.4C942.6 1594 945.3 1593.6 950 1596C954.7 1598.4 961.1 1603.2 967.1 1608C973.1 1612.8 980.3 1619.7 986 1625.1C991.7 1630.5 997.9 1636.6 1001.4 1640.6C1004.9 1644.6 1003.3 1643.7 1007.1 1649.1C1010.9 1654.5 1018.6 1665.4 1024.3 1673.1C1030 1680.8 1035.7 1688.5 1041.4 1695.4C1047.1 1702.3 1054 1708.6 1058.6 1714.3C1063.2 1720 1065.8 1725.1 1068.9 1729.7C1072 1734.3 1074.3 1739.1 1077.4 1741.7C1080.5 1744.3 1084 1745.6 1087.7 1745.2C1091.4 1744.8 1095.4 1741.5 1099.7 1739.2C1104 1736.9 1108.2 1734.7 1113.4 1731.4C1118.6 1728.1 1125.4 1725.1 1130.6 1719.4C1135.8 1713.7 1140 1706.5 1144.3 1697.1C1148.6 1687.7 1152.6 1672.9 1156.3 1662.9C1160 1652.9 1162.9 1643.7 1166.6 1637.1C1170.3 1630.5 1174.3 1626.1 1178.6 1623.4C1182.9 1620.7 1188.3 1620.3 1192.3 1620.9C1196.3 1621.5 1199.2 1623.1 1202.6 1626.9C1206 1630.8 1209.5 1638.5 1212.9 1644C1216.3 1649.5 1219.9 1655.2 1223 1660C1226.1 1664.8 1228 1668.3 1231.5 1673.1C1235 1677.9 1239.2 1685.3 1244.1 1688.8C1248.9 1692.3 1256.1 1696.1 1260.6 1694.3C1265 1692.5 1266.5 1685 1270.8 1677.8C1275.1 1670.6 1281.2 1659.8 1286.5 1651.1C1291.8 1642.4 1297 1633.8 1302.3 1625.9C1307.5 1618 1311.7 1610.7 1318 1603.9C1324.3 1597.1 1333.3 1591.3 1340 1585C1346.7 1578.7 1352 1571.3 1358 1566C1364 1560.7 1373 1555.2 1376 1553" stroke="#000" stroke-width="2.7" fill="none" stroke-linejoin="round" stroke-linecap="round" clip-path="url(#clipc)"/>
<path d="M162 1531.2L171.2 1545.5L162 1559.8L152.8 1545.5ZM205.3 1700.4L214.5 1714.7L205.3 1729L196.1 1714.7ZM222.6 1487.2L231.8 1501.5L222.6 1515.8L213.4 1501.5ZM276.1 1624.1L285.3 1638.4L276.1 1652.7L266.9 1638.4ZM295.8 1631.9L305 1646.2L295.8 1660.5L286.6 1646.2ZM458 1601.7L467.2 1616L458 1630.3L448.8 1616ZM618 1756L627.2 1770.3L618 1784.6L608.8 1770.3ZM778.6 1717.1L787.8 1731.4L778.6 1745.7L769.4 1731.4ZM938.9 1579.1L948.1 1593.4L938.9 1607.7L929.7 1593.4ZM1099.7 1724.9L1108.9 1739.2L1099.7 1753.5L1090.5 1739.2ZM1260.6 1680L1269.8 1694.3L1260.6 1708.6L1251.4 1694.3Z" stroke="#000" stroke-width="3" fill="#fff" stroke-linejoin="miter"/>
<path d="M180 1483.3H245.1" stroke="#262626" stroke-width="1.8" fill="none" stroke-dasharray="11.8 7.6" stroke-dashoffset="3.7"/>
<path d="M180 1483.3V1836.3" stroke="#262626" stroke-width="1.8" fill="none" stroke-dasharray="11.8 7.6" stroke-dashoffset="8.6"/>
<path d="M245.1 1483.3V1836.3" stroke="#262626" stroke-width="1.8" fill="none" stroke-dasharray="11.8 7.6" stroke-dashoffset="10.3"/>
<path d="M180 1836.3H245.1" stroke="#262626" stroke-width="1.8" fill="none" stroke-dasharray="11.8 7.6" stroke-dashoffset="10.2"/>
<path d="M248.6 1673L313.8 1763.2" stroke="#000" stroke-width="1.5"/>
<path d="M320.2 1772.1L310.5 1765.5L317 1760.8Z" fill="#000"/>
<rect x="260.1" y="1776.1" width="363.9" height="213.4" fill="#fff"/>
<text x="298.2" y="2011.5" font-size="14.3" text-anchor="middle" fill="#222">3</text>
<text x="346" y="2011.5" font-size="14.3" text-anchor="middle" fill="#222">3.5</text>
<text x="394" y="2011.5" font-size="14.3" text-anchor="middle" fill="#222">4</text>
<text x="442.3" y="2011.5" font-size="14.3" text-anchor="middle" fill="#222">4.5</text>
<text x="490" y="2011.5" font-size="14.3" text-anchor="middle" fill="#222">5</text>
<text x="538.4" y="2011.5" font-size="14.3" text-anchor="middle" fill="#222">5.5</text>
<text x="586.1" y="2011.5" font-size="14.3" text-anchor="middle" fill="#222">6</text>
<text x="254.1" y="1804.5" font-size="14.3" text-anchor="end" fill="#222">-5</text>
<text x="254.1" y="1849.9" font-size="14.3" text-anchor="end" fill="#222">-10</text>
<text x="254.1" y="1894.7" font-size="14.3" text-anchor="end" fill="#222">-15</text>
<text x="254.1" y="1939.5" font-size="14.3" text-anchor="end" fill="#222">-20</text>
<text x="254.1" y="1985.5" font-size="14.3" text-anchor="end" fill="#222">-25</text>
<clipPath id="iclipc"><rect x="260.1" y="1776.1" width="363.9" height="213.4"/></clipPath>
<path d="M298.2 1989.5v-3.5M298.2 1776.1v3.5M346 1989.5v-3.5M346 1776.1v3.5M394 1989.5v-3.5M394 1776.1v3.5M442.3 1989.5v-3.5M442.3 1776.1v3.5M490 1989.5v-3.5M490 1776.1v3.5M538.4 1989.5v-3.5M538.4 1776.1v3.5M586.1 1989.5v-3.5M586.1 1776.1v3.5M260.1 1799.3h3.5M624 1799.3h-3.5M260.1 1844.7h3.5M624 1844.7h-3.5M260.1 1889.5h3.5M624 1889.5h-3.5M260.1 1934.3h3.5M624 1934.3h-3.5M260.1 1980.3h3.5M624 1980.3h-3.5" stroke="#262626" stroke-width="1.3" fill="none"/>
<rect x="260.1" y="1776.1" width="363.9" height="213.4" stroke="#262626" stroke-width="1.6" fill="none"/>
<path d="M258.7 1843.5C261.9 1846 271.6 1851.3 277.7 1858.7C283.8 1866.1 290.9 1878.2 295.3 1888C299.7 1897.8 301.7 1908 304.1 1917.3C306.5 1926.6 308.9 1939.2 309.9 1943.6C310.9 1940.4 314.3 1934.8 315.8 1924.6C317.3 1914.3 317 1898.9 318.7 1882.1C320.4 1865.3 323.6 1839.2 326 1823.6C328.4 1808 331.1 1796 333.4 1788.4C335.7 1780.8 337.8 1780 340 1778C342.2 1776 344.3 1775.8 346.5 1776.5C348.7 1777.2 350.8 1779.5 353 1782C355.2 1784.5 355.8 1786.3 359.7 1791.4C363.6 1796.5 369.9 1807.3 376.7 1812.7C383.5 1818.1 391.8 1819.3 400.7 1823.6C409.6 1827.8 421.4 1833.8 430 1838.2C438.6 1842.6 442.2 1846.7 452 1849.9C461.8 1853.1 477.6 1855.6 488.6 1857.3C499.6 1859 507.6 1859.2 517.9 1860.2C528.1 1861.2 539.4 1862 550.1 1863.1C560.8 1864.2 570 1865.6 582.3 1866.9C594.6 1868.2 617 1870.3 624 1871" stroke="#000" stroke-width="4.5" fill="none" stroke-linejoin="round" stroke-linecap="round" clip-path="url(#iclipc)"/>
<g fill="#fff" stroke="#000" stroke-width="4.2"><circle cx="258.7" cy="1843.5" r="6.3"/><circle cx="315.8" cy="1924.6" r="6.3"/><circle cx="346.5" cy="1776.7" r="6.3"/><circle cx="376.7" cy="1812.7" r="6.3"/><circle cx="452" cy="1849.9" r="6.3"/><circle cx="550.1" cy="1863.1" r="6.3"/><circle cx="582.3" cy="1866.9" r="6.3"/></g>
<path d="M260.1 1845.5C264 1848.7 276.8 1857 283.6 1864.6C290.4 1872.2 296.2 1881.6 301.1 1890.9C306 1900.2 309.8 1911.2 312.9 1920.2C316 1929.2 318.1 1938.4 320 1945C321.9 1951.6 323.3 1957.3 324 1959.8C324.8 1954.2 326.9 1943.9 329 1926.1C331.1 1908.3 333.6 1873.4 336.3 1852.9C339 1832.4 342.2 1815.3 345.1 1803.1C348 1790.9 350.2 1782.3 353.9 1779.6C357.5 1776.9 362.6 1783.1 367 1787C371.4 1790.9 373.6 1797 380.2 1803.1C386.8 1809.2 396.6 1817.3 406.6 1823.6C416.6 1829.9 429.4 1836.3 440 1841C450.6 1845.7 456.7 1848.7 470 1852C483.3 1855.3 504.7 1858.7 520 1861C535.3 1863.3 544.5 1864.2 561.8 1866C579.1 1867.8 613.6 1870.9 624 1871.9" stroke="#000" stroke-width="2.8" fill="none" stroke-linejoin="round" stroke-dasharray="9 4 3.5 4" clip-path="url(#iclipc)"/>
<path d="M317.5 1959.8h13M324 1953.3v13M319.3 1955.1l9.4 9.4M319.3 1964.5l9.4 -9.4M360.5 1787h13M367 1780.5v13M362.3 1782.3l9.4 9.4M362.3 1791.7l9.4 -9.4M445.5 1849.9h13M452 1843.4v13M447.3 1845.2l9.4 9.4M447.3 1854.6l9.4 -9.4M555.3 1866h13M561.8 1859.5v13M557.1 1861.3l9.4 9.4M557.1 1870.7l9.4 -9.4" stroke="#000" stroke-width="3" fill="none"/>
<path d="M260.1 1835.3C264 1837.2 275.8 1841.2 283.6 1847C291.4 1852.8 300.7 1861.6 307 1870.4C313.3 1879.2 317.4 1890.1 321.6 1899.7C325.8 1909.3 329.4 1921 332 1928C334.6 1935 335.5 1935.6 337.2 1941.6C338.9 1947.6 340.7 1955.7 342.1 1964.1C343.5 1972.5 345.1 1987.3 345.7 1992C346.6 1985.9 348.6 1973.7 350.9 1955.4C353.2 1937.1 356.8 1905 359.7 1882.1C362.6 1859.1 365.6 1833.8 368.5 1817.7C371.4 1801.6 374.9 1792.1 377.3 1785.5C379.7 1778.9 381.2 1778.3 383.1 1778.2C385 1778.1 384.5 1779.8 388.4 1784.9C392.3 1790 399.7 1801.7 406.6 1808.9C413.5 1816.1 422.4 1821.9 430 1828C437.6 1834.1 442.2 1840.6 452 1845.5C461.8 1850.4 472.4 1853.6 488.6 1857.3C504.9 1861 526.9 1865.3 549.5 1867.5C572.1 1869.7 611.6 1869.9 624 1870.4" stroke="#000" stroke-width="2.7" fill="none" stroke-linejoin="round" stroke-linecap="round" clip-path="url(#iclipc)"/>
<path d="M260.1 1826L265.9 1835.3L260.1 1844.6L254.3 1835.3ZM337.2 1932.3L343 1941.6L337.2 1950.9L331.4 1941.6ZM388.4 1775.6L394.2 1784.9L388.4 1794.2L382.6 1784.9ZM549.5 1858.2L555.3 1867.5L549.5 1876.8L543.7 1867.5Z" stroke="#000" stroke-width="2.8" fill="#fff" stroke-linejoin="miter"/>
<rect x="1180" y="1476.8" width="188.2" height="124.1" fill="#fff" stroke="#262626" stroke-width="1.5"/>
<path d="M1185.1 1498H1233" stroke="#000" stroke-width="4.5" fill="none" stroke-linejoin="butt" stroke-linecap="butt"/>
<g fill="#fff" stroke="#000" stroke-width="4.1"><circle cx="1208.7" cy="1498" r="9.5"/></g>
<text x="1236.5" y="1511.7" font-size="32.5">t=0.5mm</text>
<path d="M1185.1 1538.9H1233" stroke="#000" stroke-width="2.8" stroke-dasharray="9 4 3.5 4"/>
<path d="M1198.9 1538.9h19.6M1208.7 1529.1v19.6M1201.6 1531.8l14.1 14.1M1201.6 1546l14.1 -14.1" stroke="#000" stroke-width="3.1" fill="none"/>
<text x="1236.5" y="1552.6" font-size="32.5">t=1mm</text>
<path d="M1185.1 1579.4H1233" stroke="#000" stroke-width="2.7" fill="none" stroke-linejoin="butt" stroke-linecap="butt"/>
<path d="M1208.7 1565.1L1217.9 1579.4L1208.7 1593.7L1199.5 1579.4Z" stroke="#000" stroke-width="3" fill="#fff" stroke-linejoin="miter"/>
<text x="1236.5" y="1593.1" font-size="32.5">t=1.5mm</text>
<text x="99" y="2062.1" font-size="32.5" text-anchor="middle">0</text>
<text x="259.3" y="2062.1" font-size="32.5" text-anchor="middle">5</text>
<text x="419.5" y="2062.1" font-size="32.5" text-anchor="middle">10</text>
<text x="579.8" y="2062.1" font-size="32.5" text-anchor="middle">15</text>
<text x="740" y="2062.1" font-size="32.5" text-anchor="middle">20</text>
<text x="900.3" y="2062.1" font-size="32.5" text-anchor="middle">25</text>
<text x="1060.6" y="2062.1" font-size="32.5" text-anchor="middle">30</text>
<text x="1220.8" y="2062.1" font-size="32.5" text-anchor="middle">35</text>
<text x="1381.1" y="2062.1" font-size="32.5" text-anchor="middle">40</text>
<text x="87.5" y="1476.4" font-size="32.5" text-anchor="end">0</text>
<text x="87.5" y="1615.3" font-size="32.5" text-anchor="end">-10</text>
<text x="87.5" y="1754.1" font-size="32.5" text-anchor="end">-20</text>
<text x="87.5" y="1893" font-size="32.5" text-anchor="end">-30</text>
<text x="87.5" y="2031.9" font-size="32.5" text-anchor="end">-40</text>
<text transform="translate(27.3 1740.8) rotate(-90)" font-size="36.9" text-anchor="middle">S11 (dB)</text>
<text x="610" y="2106" font-size="35.3">frequency (GHz)</text>
<text x="664.8" y="2148.9" font-size="44" letter-spacing="2" style="font-family:'Liberation Serif',serif">(c)</text>
</svg></body></html>
